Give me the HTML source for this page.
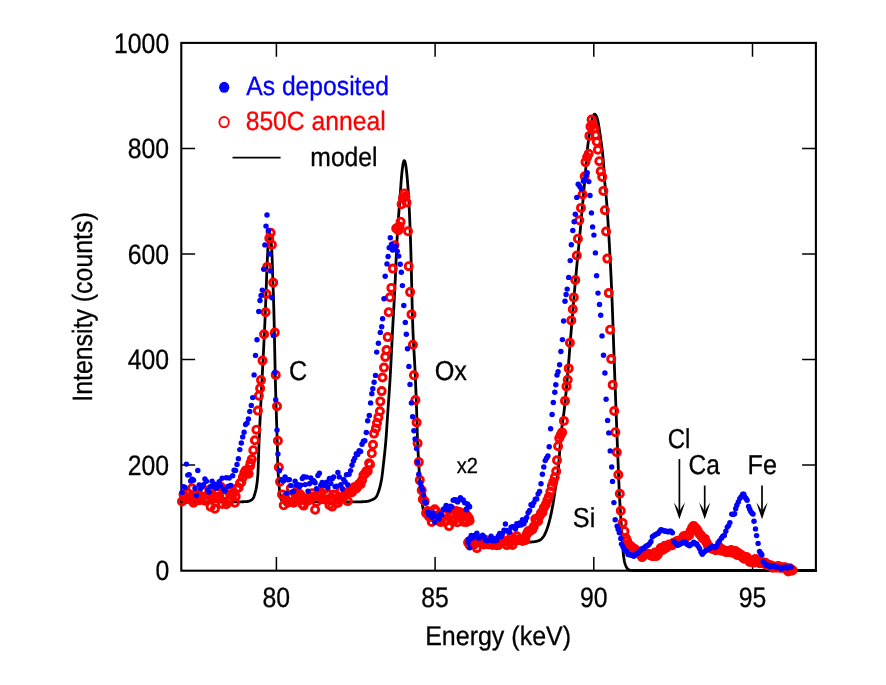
<!DOCTYPE html>
<html><head><meta charset="utf-8"><title>Spectrum</title>
<style>
html,body{margin:0;padding:0;background:#fff;}
svg{display:block;will-change:transform;}
text{font-family:"Liberation Sans",sans-serif;text-rendering:geometricPrecision;}
</style></head><body>
<svg width="886" height="685" viewBox="0 0 886 685">
<rect width="886" height="685" fill="#fff"/>
<defs><circle id="r" r="3.55" fill="none" stroke="#f00" stroke-width="2.9"/><circle id="b" r="2.72" fill="#00f"/><path id="ah" d="M0 0 L-5.6 -16.6 Q-1.6 -11.5 0 -7.5 Q1.6 -11.5 5.6 -16.6 Z" fill="#000"/></defs>
<rect x="181.3" y="42.9" width="634.6" height="527.8" fill="none" stroke="#000" stroke-width="2.1"/>
<path d="M276.4 42.9 V56.7 M276.4 570.7 V556.9 M435.1 42.9 V56.7 M435.1 570.7 V556.9 M593.8 42.9 V56.7 M593.8 570.7 V556.9 M752.5 42.9 V56.7 M752.5 570.7 V556.9 M181.3 465.1 H195.1 M815.9 465.1 H802.1 M181.3 359.6 H195.1 M815.9 359.6 H802.1 M181.3 254.0 H195.1 M815.9 254.0 H802.1 M181.3 148.5 H195.1 M815.9 148.5 H802.1" stroke="#000" stroke-width="1.5" fill="none"/>
<g fill="none" stroke="#000" stroke-width="2.8" stroke-linejoin="round" stroke-linecap="round"><path d="M181.40 501.80 L181.65 501.80 L181.90 501.80 L182.15 501.80 L182.40 501.80 L182.65 501.80 L182.90 501.80 L183.15 501.80 L183.40 501.80 L183.65 501.80 L183.90 501.80 L184.15 501.80 L184.40 501.80 L184.65 501.80 L184.90 501.80 L185.15 501.80 L185.40 501.80 L185.65 501.80 L185.90 501.80 L186.15 501.80 L186.40 501.80 L186.65 501.80 L186.90 501.80 L187.15 501.80 L187.40 501.80 L187.65 501.80 L187.90 501.80 L188.15 501.80 L188.40 501.80 L188.65 501.80 L188.90 501.80 L189.15 501.80 L189.40 501.80 L189.65 501.80 L189.90 501.80 L190.15 501.80 L190.40 501.80 L190.65 501.80 L190.90 501.80 L191.15 501.80 L191.40 501.80 L191.65 501.80 L191.90 501.80 L192.15 501.80 L192.40 501.80 L192.65 501.80 L192.90 501.80 L193.15 501.80 L193.40 501.80 L193.65 501.80 L193.90 501.80 L194.15 501.80 L194.40 501.80 L194.65 501.80 L194.90 501.80 L195.15 501.80 L195.40 501.80 L195.65 501.80 L195.90 501.80 L196.15 501.80 L196.40 501.80 L196.65 501.80 L196.90 501.80 L197.15 501.80 L197.40 501.80 L197.65 501.80 L197.90 501.80 L198.15 501.80 L198.40 501.80 L198.65 501.80 L198.90 501.80 L199.15 501.80 L199.40 501.80 L199.65 501.80 L199.90 501.80 L200.15 501.80 L200.40 501.80 L200.65 501.80 L200.90 501.80 L201.15 501.80 L201.40 501.80 L201.65 501.80 L201.90 501.80 L202.15 501.80 L202.40 501.80 L202.65 501.80 L202.90 501.80 L203.15 501.80 L203.40 501.80 L203.65 501.80 L203.90 501.80 L204.15 501.80 L204.40 501.80 L204.65 501.80 L204.90 501.80 L205.15 501.80 L205.40 501.80 L205.65 501.80 L205.90 501.80 L206.15 501.80 L206.40 501.80 L206.65 501.80 L206.90 501.80 L207.15 501.80 L207.40 501.80 L207.65 501.80 L207.90 501.80 L208.15 501.80 L208.40 501.80 L208.65 501.80 L208.90 501.80 L209.15 501.80 L209.40 501.80 L209.65 501.80 L209.90 501.80 L210.15 501.80 L210.40 501.80 L210.65 501.80 L210.90 501.80 L211.15 501.80 L211.40 501.80 L211.65 501.80 L211.90 501.80 L212.15 501.80 L212.40 501.80 L212.65 501.80 L212.90 501.80 L213.15 501.80 L213.40 501.80 L213.65 501.80 L213.90 501.80 L214.15 501.80 L214.40 501.80 L214.65 501.80 L214.90 501.80 L215.15 501.80 L215.40 501.80 L215.65 501.80 L215.90 501.80 L216.15 501.80 L216.40 501.80 L216.65 501.80 L216.90 501.80 L217.15 501.80 L217.40 501.80 L217.65 501.80 L217.90 501.80 L218.15 501.80 L218.40 501.80 L218.65 501.80 L218.90 501.80 L219.15 501.80 L219.40 501.80 L219.65 501.80 L219.90 501.80 L220.15 501.80 L220.40 501.80 L220.65 501.80 L220.90 501.80 L221.15 501.80 L221.40 501.80 L221.65 501.80 L221.90 501.80 L222.15 501.80 L222.40 501.80 L222.65 501.80 L222.90 501.80 L223.15 501.80 L223.40 501.80 L223.65 501.80 L223.90 501.80 L224.15 501.80 L224.40 501.80 L224.65 501.80 L224.90 501.80 L225.15 501.80 L225.40 501.80 L225.65 501.80 L225.90 501.80 L226.15 501.80 L226.40 501.80 L226.65 501.80 L226.90 501.80 L227.15 501.80 L227.40 501.80 L227.65 501.80 L227.90 501.80 L228.15 501.80 L228.40 501.80 L228.65 501.80 L228.90 501.80 L229.15 501.80 L229.40 501.80 L229.65 501.80 L229.90 501.80 L230.15 501.80 L230.40 501.80 L230.65 501.80 L230.90 501.80 L231.15 501.80 L231.40 501.80 L231.65 501.80 L231.90 501.80 L232.15 501.80 L232.40 501.80 L232.65 501.80 L232.90 501.80 L233.15 501.80 L233.40 501.80 L233.65 501.80 L233.90 501.80 L234.15 501.80 L234.40 501.80 L234.65 501.80 L234.90 501.80 L235.15 501.80 L235.40 501.80 L235.65 501.80 L235.90 501.80 L236.15 501.80 L236.40 501.80 L236.65 501.80 L236.90 501.80 L237.15 501.80 L237.40 501.80 L237.65 501.80 L237.90 501.80 L238.15 501.80 L238.40 501.80 L238.65 501.80 L238.90 501.80 L239.15 501.80 L239.40 501.80 L239.65 501.80 L239.90 501.80 L240.15 501.80 L240.40 501.80 L240.65 501.80 L240.90 501.80 L241.15 501.79 L241.40 501.79 L241.65 501.79 L241.90 501.78 L242.15 501.78 L242.40 501.77 L242.65 501.76 L242.90 501.76 L243.15 501.75 L243.40 501.74 L243.65 501.73 L243.90 501.72 L244.15 501.71 L244.40 501.70 L244.65 501.68 L244.90 501.67 L245.15 501.66 L245.40 501.64 L245.65 501.63 L245.90 501.61 L246.15 501.60 L246.40 501.58 L246.65 501.56 L246.90 501.55 L247.15 501.53 L247.40 501.51 L247.65 501.49 L247.90 501.45 L248.15 501.40 L248.40 501.34 L248.65 501.27 L248.90 501.19 L249.15 501.10 L249.40 501.00 L249.65 500.89 L249.90 500.77 L250.15 500.65 L250.40 500.52 L250.65 500.39 L250.90 500.25 L251.15 500.11 L251.40 499.96 L251.65 499.78 L251.90 499.58 L252.15 499.36 L252.40 499.11 L252.65 498.84 L252.90 498.54 L253.15 498.21 L253.40 497.84 L253.65 497.37 L253.90 496.78 L254.15 496.10 L254.40 495.34 L254.65 494.52 L254.90 493.65 L255.15 492.75 L255.40 491.83 L255.65 490.84 L255.90 489.76 L256.15 488.55 L256.40 487.20 L256.65 485.68 L256.90 484.02 L257.15 482.13 L257.40 479.90 L257.65 477.23 L257.90 474.00 L258.15 468.80 L258.40 461.35 L258.65 453.22 L258.90 446.00 L259.15 439.94 L259.40 434.19 L259.65 428.66 L259.90 423.29 L260.15 418.00 L260.40 412.70 L260.65 407.42 L260.90 402.21 L261.15 397.07 L261.40 392.00 L261.65 386.97 L261.90 382.00 L262.15 377.12 L262.40 372.35 L262.65 367.63 L262.90 362.92 L263.15 358.15 L263.40 353.29 L263.65 348.30 L263.90 343.30 L264.15 338.25 L264.40 333.10 L264.65 327.79 L264.90 322.27 L265.15 316.48 L265.40 310.33 L265.65 303.92 L265.90 297.32 L266.15 290.27 L266.40 283.11 L266.65 276.29 L266.90 269.89 L267.15 263.62 L267.40 257.90 L267.65 253.13 L267.90 248.93 L268.15 245.16 L268.40 241.99 L268.65 239.57 L268.90 237.42 L269.15 235.48 L269.40 234.01 L269.65 233.32 L269.90 233.58 L270.15 234.59 L270.40 236.10 L270.65 237.89 L270.90 239.77 L271.15 242.11 L271.40 245.01 L271.65 248.51 L271.90 252.60 L272.15 258.37 L272.40 266.01 L272.65 274.19 L272.90 281.67 L273.15 288.61 L273.40 295.67 L273.65 303.42 L273.90 312.51 L274.15 322.86 L274.40 334.07 L274.65 346.40 L274.90 359.06 L275.15 371.20 L275.40 382.00 L275.65 391.31 L275.90 399.80 L276.15 407.88 L276.40 415.86 L276.65 423.31 L276.90 430.59 L277.15 438.31 L277.40 447.35 L277.65 458.85 L277.90 467.90 L278.15 472.95 L278.40 476.82 L278.65 480.09 L278.90 483.30 L279.15 486.46 L279.40 489.37 L279.65 491.83 L279.90 493.69 L280.15 495.30 L280.40 496.73 L280.65 497.90 L280.90 498.76 L281.15 499.31 L281.40 499.79 L281.65 500.22 L281.90 500.60 L282.15 500.92 L282.40 501.18 L282.65 501.37 L282.90 501.48 L283.15 501.52 L283.40 501.56 L283.65 501.59 L283.90 501.62 L284.15 501.65 L284.40 501.68 L284.65 501.70 L284.90 501.72 L285.15 501.74 L285.40 501.75 L285.65 501.77 L285.90 501.78 L286.15 501.79 L286.40 501.79 L286.65 501.80 L286.90 501.80 L287.15 501.80 L287.40 501.80 L287.65 501.80 L287.90 501.80 L288.15 501.80 L288.40 501.80 L288.65 501.80 L288.90 501.80 L289.15 501.80 L289.40 501.80 L289.65 501.80 L289.90 501.80 L290.15 501.80 L290.40 501.80 L290.65 501.80 L290.90 501.80 L291.15 501.80 L291.40 501.80 L291.65 501.80 L291.90 501.80 L292.15 501.80 L292.40 501.80 L292.65 501.80 L292.90 501.80 L293.15 501.80 L293.40 501.80 L293.65 501.80 L293.90 501.80 L294.15 501.80 L294.40 501.80 L294.65 501.80 L294.90 501.80 L295.15 501.80 L295.40 501.80 L295.65 501.80 L295.90 501.80 L296.15 501.80 L296.40 501.80 L296.65 501.80 L296.90 501.80 L297.15 501.80 L297.40 501.80 L297.65 501.80 L297.90 501.80 L298.15 501.80 L298.40 501.80 L298.65 501.80 L298.90 501.80 L299.15 501.80 L299.40 501.80 L299.65 501.80 L299.90 501.80 L300.15 501.80 L300.40 501.80 L300.65 501.80 L300.90 501.80 L301.15 501.80 L301.40 501.80 L301.65 501.80 L301.90 501.80 L302.15 501.80 L302.40 501.80 L302.65 501.80 L302.90 501.80 L303.15 501.80 L303.40 501.80 L303.65 501.80 L303.90 501.80 L304.15 501.80 L304.40 501.80 L304.65 501.80 L304.90 501.80 L305.15 501.80 L305.40 501.80 L305.65 501.80 L305.90 501.80 L306.15 501.80 L306.40 501.80 L306.65 501.80 L306.90 501.80 L307.15 501.80 L307.40 501.80 L307.65 501.80 L307.90 501.80 L308.15 501.80 L308.40 501.80 L308.65 501.80 L308.90 501.80 L309.15 501.80 L309.40 501.80 L309.65 501.80 L309.90 501.80 L310.15 501.80 L310.40 501.80 L310.65 501.80 L310.90 501.80 L311.15 501.80 L311.40 501.80 L311.65 501.80 L311.90 501.80 L312.15 501.80 L312.40 501.80 L312.65 501.80 L312.90 501.80 L313.15 501.80 L313.40 501.80 L313.65 501.80 L313.90 501.80 L314.15 501.80 L314.40 501.80 L314.65 501.80 L314.90 501.80 L315.15 501.80 L315.40 501.80 L315.65 501.80 L315.90 501.80 L316.15 501.80 L316.40 501.80 L316.65 501.80 L316.90 501.80 L317.15 501.80 L317.40 501.80 L317.65 501.80 L317.90 501.80 L318.15 501.80 L318.40 501.80 L318.65 501.80 L318.90 501.80 L319.15 501.80 L319.40 501.80 L319.65 501.80 L319.90 501.80 L320.15 501.80 L320.40 501.80 L320.65 501.80 L320.90 501.80 L321.15 501.80 L321.40 501.80 L321.65 501.80 L321.90 501.80 L322.15 501.80 L322.40 501.80 L322.65 501.80 L322.90 501.80 L323.15 501.80 L323.40 501.80 L323.65 501.80 L323.90 501.80 L324.15 501.80 L324.40 501.80 L324.65 501.80 L324.90 501.80 L325.15 501.80 L325.40 501.80 L325.65 501.80 L325.90 501.80 L326.15 501.80 L326.40 501.80 L326.65 501.80 L326.90 501.80 L327.15 501.80 L327.40 501.80 L327.65 501.80 L327.90 501.80 L328.15 501.80 L328.40 501.80 L328.65 501.80 L328.90 501.80 L329.15 501.80 L329.40 501.80 L329.65 501.80 L329.90 501.80 L330.15 501.80 L330.40 501.80 L330.65 501.80 L330.90 501.80 L331.15 501.80 L331.40 501.80 L331.65 501.80 L331.90 501.80 L332.15 501.80 L332.40 501.80 L332.65 501.80 L332.90 501.80 L333.15 501.80 L333.40 501.80 L333.65 501.80 L333.90 501.80 L334.15 501.80 L334.40 501.80 L334.65 501.80 L334.90 501.80 L335.15 501.80 L335.40 501.80 L335.65 501.80 L335.90 501.80 L336.15 501.80 L336.40 501.80 L336.65 501.80 L336.90 501.80 L337.15 501.80 L337.40 501.80 L337.65 501.80 L337.90 501.80 L338.15 501.80 L338.40 501.80 L338.65 501.80 L338.90 501.80 L339.15 501.80 L339.40 501.80 L339.65 501.80 L339.90 501.80 L340.15 501.80 L340.40 501.80 L340.65 501.80 L340.90 501.80 L341.15 501.80 L341.40 501.80 L341.65 501.80 L341.90 501.80 L342.15 501.80 L342.40 501.80 L342.65 501.80 L342.90 501.80 L343.15 501.80 L343.40 501.80 L343.65 501.80 L343.90 501.80 L344.15 501.80 L344.40 501.80 L344.65 501.80 L344.90 501.80 L345.15 501.80 L345.40 501.80 L345.65 501.80 L345.90 501.80 L346.15 501.80 L346.40 501.80 L346.65 501.80 L346.90 501.80 L347.15 501.80 L347.40 501.80 L347.65 501.80 L347.90 501.80 L348.15 501.80 L348.40 501.80 L348.65 501.80 L348.90 501.80 L349.15 501.80 L349.40 501.80 L349.65 501.80 L349.90 501.80 L350.15 501.80 L350.40 501.80 L350.65 501.80 L350.90 501.80 L351.15 501.80 L351.40 501.80 L351.65 501.80 L351.90 501.80 L352.15 501.80 L352.40 501.80 L352.65 501.80 L352.90 501.80 L353.15 501.80 L353.40 501.80 L353.65 501.80 L353.90 501.80 L354.15 501.80 L354.40 501.80 L354.65 501.80 L354.90 501.80 L355.15 501.80 L355.40 501.80 L355.65 501.80 L355.90 501.80 L356.15 501.80 L356.40 501.80 L356.65 501.80 L356.90 501.80 L357.15 501.80 L357.40 501.80 L357.65 501.80 L357.90 501.80 L358.15 501.80 L358.40 501.80 L358.65 501.80 L358.90 501.80 L359.15 501.80 L359.40 501.80 L359.65 501.80 L359.90 501.80 L360.15 501.80 L360.40 501.80 L360.65 501.80 L360.90 501.79 L361.15 501.79 L361.40 501.78 L361.65 501.77 L361.90 501.77 L362.15 501.76 L362.40 501.75 L362.65 501.73 L362.90 501.72 L363.15 501.71 L363.40 501.69 L363.65 501.68 L363.90 501.66 L364.15 501.65 L364.40 501.63 L364.65 501.61 L364.90 501.59 L365.15 501.57 L365.40 501.55 L365.65 501.53 L365.90 501.51 L366.15 501.48 L366.40 501.46 L366.65 501.43 L366.90 501.41 L367.15 501.38 L367.40 501.35 L367.65 501.31 L367.90 501.26 L368.15 501.20 L368.40 501.14 L368.65 501.07 L368.90 500.99 L369.15 500.91 L369.40 500.83 L369.65 500.75 L369.90 500.66 L370.15 500.56 L370.40 500.47 L370.65 500.37 L370.90 500.28 L371.15 500.18 L371.40 500.08 L371.65 499.98 L371.90 499.88 L372.15 499.78 L372.40 499.67 L372.65 499.55 L372.90 499.44 L373.15 499.31 L373.40 499.18 L373.65 499.04 L373.90 498.89 L374.15 498.73 L374.40 498.56 L374.65 498.39 L374.90 498.20 L375.15 497.99 L375.40 497.78 L375.65 497.55 L375.90 497.29 L376.15 496.96 L376.40 496.57 L376.65 496.13 L376.90 495.64 L377.15 495.11 L377.40 494.53 L377.65 493.93 L377.90 493.29 L378.15 492.63 L378.40 491.95 L378.65 491.26 L378.90 490.53 L379.15 489.75 L379.40 488.91 L379.65 488.02 L379.90 487.08 L380.15 486.07 L380.40 485.01 L380.65 483.88 L380.90 482.70 L381.15 481.45 L381.40 480.14 L381.65 478.74 L381.90 477.13 L382.15 475.33 L382.40 473.39 L382.65 471.32 L382.90 469.16 L383.15 466.94 L383.40 464.69 L383.65 462.45 L383.90 460.22 L384.15 457.96 L384.40 455.67 L384.65 453.31 L384.90 450.87 L385.15 448.34 L385.40 445.70 L385.65 442.92 L385.90 440.00 L386.15 436.81 L386.40 433.31 L386.65 429.59 L386.90 425.74 L387.15 421.84 L387.40 417.99 L387.65 414.27 L387.90 410.68 L388.15 407.15 L388.40 403.67 L388.65 400.18 L388.90 396.67 L389.15 393.09 L389.40 389.42 L389.65 385.61 L389.90 381.64 L390.15 377.46 L390.40 373.04 L390.65 368.41 L390.90 363.60 L391.15 358.68 L391.40 353.67 L391.65 348.62 L391.90 343.57 L392.15 338.56 L392.40 333.64 L392.65 328.85 L392.90 324.18 L393.15 319.59 L393.40 315.05 L393.65 310.52 L393.90 305.97 L394.15 301.38 L394.40 296.71 L394.65 291.94 L394.90 287.01 L395.15 281.87 L395.40 276.34 L395.65 270.53 L395.90 264.59 L396.15 258.65 L396.40 252.84 L396.65 247.31 L396.90 242.20 L397.15 237.63 L397.40 233.43 L397.65 229.44 L397.90 225.64 L398.15 222.01 L398.40 218.51 L398.65 215.11 L398.90 211.79 L399.15 208.52 L399.40 205.27 L399.65 202.00 L399.90 198.70 L400.15 195.30 L400.40 191.82 L400.65 188.32 L400.90 184.87 L401.15 181.52 L401.40 178.36 L401.65 175.44 L401.90 172.82 L402.15 170.58 L402.40 168.52 L402.65 166.62 L402.90 164.96 L403.15 163.62 L403.40 162.64 L403.65 161.77 L403.90 161.04 L404.15 160.58 L404.40 160.54 L404.65 160.92 L404.90 161.60 L405.15 162.46 L405.40 163.39 L405.65 164.66 L405.90 166.27 L406.15 168.13 L406.40 170.16 L406.65 172.31 L406.90 174.70 L407.15 177.34 L407.40 180.21 L407.65 183.31 L407.90 186.63 L408.15 190.17 L408.40 193.93 L408.65 197.88 L408.90 202.15 L409.15 206.90 L409.40 212.13 L409.65 217.79 L409.90 223.85 L410.15 230.27 L410.40 237.02 L410.65 244.29 L410.90 252.86 L411.15 262.50 L411.40 272.83 L411.65 283.52 L411.90 294.20 L412.15 304.53 L412.40 314.14 L412.65 322.68 L412.90 329.80 L413.15 335.68 L413.40 340.88 L413.65 345.56 L413.90 349.93 L414.15 354.16 L414.40 358.43 L414.65 362.94 L414.90 367.87 L415.15 373.31 L415.40 378.99 L415.65 384.90 L415.90 391.07 L416.15 397.54 L416.40 404.32 L416.65 411.49 L416.90 420.00 L417.15 429.12 L417.40 437.32 L417.65 443.49 L417.90 448.61 L418.15 453.16 L418.40 457.50 L418.65 461.83 L418.90 466.09 L419.15 470.21 L419.40 474.15 L419.65 477.86 L419.90 481.29 L420.15 484.40 L420.40 487.28 L420.65 490.01 L420.90 492.58 L421.15 495.00 L421.40 497.26 L421.65 499.36 L421.90 501.30 L422.15 503.14 L422.40 504.92 L422.65 506.60 L422.90 508.13 L423.15 509.49 L423.40 510.62 L423.65 511.53 L423.90 512.38 L424.15 513.16 L424.40 513.88 L424.65 514.53 L424.90 515.08 L425.15 515.54 L425.40 515.89 L425.65 516.15 L425.90 516.38 L426.15 516.59 L426.40 516.79 L426.65 516.96 L426.90 517.12 L427.15 517.25 L427.40 517.36 L427.65 517.44 L427.90 517.49 L428.15 517.51 L428.40 517.54 L428.65 517.56 L428.90 517.58 L429.15 517.60 L429.40 517.61 L429.65 517.63 L429.90 517.64 L430.15 517.66 L430.40 517.67 L430.65 517.68 L430.90 517.68 L431.15 517.69 L431.40 517.70 L431.65 517.70 L431.90 517.70 L432.15 517.70 L432.40 517.70 L432.65 517.70 L432.90 517.70 L433.15 517.70 L433.40 517.70 L433.65 517.70 L433.90 517.70 L434.15 517.70 L434.40 517.70 L434.65 517.70 L434.90 517.70 L435.15 517.70 L435.40 517.70 L435.65 517.70 L435.90 517.70 L436.15 517.70 L436.40 517.70 L436.65 517.70 L436.90 517.70 L437.15 517.70 L437.40 517.70 L437.65 517.70 L437.90 517.70 L438.15 517.70 L438.40 517.70 L438.65 517.70 L438.90 517.70 L439.15 517.70 L439.40 517.70 L439.65 517.70 L439.90 517.70 L440.15 517.70 L440.40 517.70 L440.65 517.70 L440.90 517.70 L441.15 517.70 L441.40 517.70 L441.65 517.70 L441.90 517.70 L442.15 517.70 L442.40 517.70 L442.65 517.70 L442.90 517.70 L443.15 517.70 L443.40 517.70 L443.65 517.70 L443.90 517.70 L444.15 517.70 L444.40 517.70 L444.65 517.70 L444.90 517.70 L445.15 517.70 L445.40 517.70 L445.65 517.70 L445.90 517.70 L446.15 517.70 L446.40 517.70 L446.65 517.70 L446.90 517.70 L447.15 517.70 L447.40 517.70 L447.65 517.70 L447.90 517.70 L448.15 517.70 L448.40 517.70 L448.65 517.70 L448.90 517.70 L449.15 517.70 L449.40 517.70 L449.65 517.70 L449.90 517.70 L450.15 517.70 L450.40 517.70 L450.65 517.70 L450.90 517.70 L451.15 517.70 L451.40 517.70 L451.65 517.70 L451.90 517.70 L452.15 517.70 L452.40 517.70 L452.65 517.70 L452.90 517.70 L453.15 517.70 L453.40 517.70 L453.65 517.70 L453.90 517.70 L454.15 517.70 L454.40 517.70 L454.65 517.70 L454.90 517.70 L455.15 517.70 L455.40 517.70 L455.65 517.70 L455.90 517.70 L456.15 517.70 L456.40 517.70 L456.65 517.70 L456.90 517.70 L457.15 517.70 L457.40 517.70 L457.65 517.70 L457.90 517.70 L458.15 517.70 L458.40 517.70 L458.65 517.70 L458.90 517.70 L459.15 517.70 L459.40 517.70 L459.65 517.70 L459.90 517.70 L460.15 517.70 L460.40 517.70 L460.65 517.70 L460.90 517.70 L461.15 517.70 L461.40 517.70 L461.65 517.70 L461.90 517.70 L462.15 517.70 L462.40 517.70 L462.65 517.70 L462.90 517.70 L463.15 517.70 L463.40 517.70 L463.65 517.70 L463.90 517.70 L464.15 517.70 L464.40 517.70 L464.65 517.70 L464.90 517.70 L465.15 517.70 L465.40 517.70 L465.65 517.70 L465.90 517.70 L466.15 517.70 L466.40 517.70 L466.65 517.70 L466.90 517.70 L467.15 517.70 L467.40 517.70 L467.65 517.70 L467.90 517.70 L468.15 517.70"/><path d="M468.30 542.40 L468.55 542.40 L468.80 542.40 L469.05 542.40 L469.30 542.40 L469.55 542.40 L469.80 542.40 L470.05 542.40 L470.30 542.40 L470.55 542.40 L470.80 542.40 L471.05 542.40 L471.30 542.40 L471.55 542.40 L471.80 542.40 L472.05 542.40 L472.30 542.40 L472.55 542.40 L472.80 542.40 L473.05 542.40 L473.30 542.40 L473.55 542.40 L473.80 542.40 L474.05 542.40 L474.30 542.40 L474.55 542.40 L474.80 542.40 L475.05 542.40 L475.30 542.40 L475.55 542.40 L475.80 542.40 L476.05 542.40 L476.30 542.40 L476.55 542.40 L476.80 542.40 L477.05 542.40 L477.30 542.40 L477.55 542.40 L477.80 542.40 L478.05 542.40 L478.30 542.40 L478.55 542.40 L478.80 542.40 L479.05 542.40 L479.30 542.40 L479.55 542.40 L479.80 542.40 L480.05 542.40 L480.30 542.40 L480.55 542.40 L480.80 542.40 L481.05 542.40 L481.30 542.40 L481.55 542.40 L481.80 542.40 L482.05 542.40 L482.30 542.40 L482.55 542.40 L482.80 542.40 L483.05 542.40 L483.30 542.40 L483.55 542.40 L483.80 542.40 L484.05 542.40 L484.30 542.40 L484.55 542.40 L484.80 542.40 L485.05 542.40 L485.30 542.40 L485.55 542.40 L485.80 542.40 L486.05 542.40 L486.30 542.40 L486.55 542.40 L486.80 542.40 L487.05 542.40 L487.30 542.40 L487.55 542.40 L487.80 542.40 L488.05 542.40 L488.30 542.40 L488.55 542.40 L488.80 542.40 L489.05 542.40 L489.30 542.40 L489.55 542.40 L489.80 542.40 L490.05 542.40 L490.30 542.40 L490.55 542.40 L490.80 542.40 L491.05 542.40 L491.30 542.40 L491.55 542.40 L491.80 542.40 L492.05 542.40 L492.30 542.40 L492.55 542.40 L492.80 542.40 L493.05 542.40 L493.30 542.40 L493.55 542.40 L493.80 542.40 L494.05 542.40 L494.30 542.40 L494.55 542.40 L494.80 542.40 L495.05 542.40 L495.30 542.40 L495.55 542.40 L495.80 542.40 L496.05 542.40 L496.30 542.40 L496.55 542.40 L496.80 542.40 L497.05 542.40 L497.30 542.40 L497.55 542.40 L497.80 542.40 L498.05 542.40 L498.30 542.40 L498.55 542.40 L498.80 542.40 L499.05 542.40 L499.30 542.40 L499.55 542.40 L499.80 542.40 L500.05 542.40 L500.30 542.40 L500.55 542.40 L500.80 542.40 L501.05 542.40 L501.30 542.40 L501.55 542.40 L501.80 542.40 L502.05 542.40 L502.30 542.40 L502.55 542.40 L502.80 542.40 L503.05 542.40 L503.30 542.40 L503.55 542.40 L503.80 542.40 L504.05 542.40 L504.30 542.40 L504.55 542.40 L504.80 542.40 L505.05 542.40 L505.30 542.40 L505.55 542.40 L505.80 542.40 L506.05 542.40 L506.30 542.40 L506.55 542.40 L506.80 542.40 L507.05 542.40 L507.30 542.40 L507.55 542.40 L507.80 542.40 L508.05 542.40 L508.30 542.40 L508.55 542.40 L508.80 542.40 L509.05 542.40 L509.30 542.40 L509.55 542.40 L509.80 542.40 L510.05 542.40 L510.30 542.40 L510.55 542.40 L510.80 542.40 L511.05 542.40 L511.30 542.40 L511.55 542.40 L511.80 542.40 L512.05 542.40 L512.30 542.40 L512.55 542.40 L512.80 542.40 L513.05 542.40 L513.30 542.40 L513.55 542.40 L513.80 542.40 L514.05 542.40 L514.30 542.40 L514.55 542.40 L514.80 542.40 L515.05 542.40 L515.30 542.40 L515.55 542.40 L515.80 542.40 L516.05 542.40 L516.30 542.40 L516.55 542.40 L516.80 542.40 L517.05 542.40 L517.30 542.40 L517.55 542.40 L517.80 542.40 L518.05 542.40 L518.30 542.40 L518.55 542.40 L518.80 542.40 L519.05 542.40 L519.30 542.40 L519.55 542.40 L519.80 542.40 L520.05 542.40 L520.30 542.40 L520.55 542.40 L520.80 542.40 L521.05 542.40 L521.30 542.40 L521.55 542.40 L521.80 542.40 L522.05 542.40 L522.30 542.40 L522.55 542.40 L522.80 542.40 L523.05 542.39 L523.30 542.39 L523.55 542.38 L523.80 542.38 L524.05 542.37 L524.30 542.37 L524.55 542.36 L524.80 542.35 L525.05 542.34 L525.30 542.33 L525.55 542.32 L525.80 542.31 L526.05 542.30 L526.30 542.29 L526.55 542.28 L526.80 542.27 L527.05 542.26 L527.30 542.25 L527.55 542.24 L527.80 542.23 L528.05 542.22 L528.30 542.20 L528.55 542.19 L528.80 542.18 L529.05 542.17 L529.30 542.15 L529.55 542.14 L529.80 542.12 L530.05 542.11 L530.30 542.09 L530.55 542.07 L530.80 542.05 L531.05 542.04 L531.30 542.02 L531.55 541.99 L531.80 541.97 L532.05 541.95 L532.30 541.92 L532.55 541.90 L532.80 541.87 L533.05 541.85 L533.30 541.82 L533.55 541.79 L533.80 541.76 L534.05 541.73 L534.30 541.70 L534.55 541.66 L534.80 541.63 L535.05 541.59 L535.30 541.55 L535.55 541.51 L535.80 541.46 L536.05 541.41 L536.30 541.36 L536.55 541.30 L536.80 541.24 L537.05 541.17 L537.30 541.10 L537.55 541.03 L537.80 540.95 L538.05 540.86 L538.30 540.77 L538.55 540.68 L538.80 540.58 L539.05 540.48 L539.30 540.37 L539.55 540.26 L539.80 540.15 L540.05 540.02 L540.30 539.89 L540.55 539.73 L540.80 539.55 L541.05 539.35 L541.30 539.13 L541.55 538.88 L541.80 538.62 L542.05 538.34 L542.30 538.05 L542.55 537.75 L542.80 537.43 L543.05 537.11 L543.30 536.77 L543.55 536.43 L543.80 536.06 L544.05 535.65 L544.30 535.21 L544.55 534.75 L544.80 534.25 L545.05 533.73 L545.30 533.19 L545.55 532.63 L545.80 532.06 L546.05 531.48 L546.30 530.87 L546.55 530.23 L546.80 529.56 L547.05 528.86 L547.30 528.13 L547.55 527.38 L547.80 526.61 L548.05 525.81 L548.30 525.00 L548.55 524.16 L548.80 523.29 L549.05 522.39 L549.30 521.46 L549.55 520.50 L549.80 519.51 L550.05 518.48 L550.30 517.43 L550.55 516.35 L550.80 515.23 L551.05 514.08 L551.30 512.90 L551.55 511.69 L551.80 510.44 L552.05 509.16 L552.30 507.85 L552.55 506.51 L552.80 505.14 L553.05 503.73 L553.30 502.30 L553.55 500.80 L553.80 499.20 L554.05 497.53 L554.30 495.82 L554.55 494.07 L554.80 492.33 L555.05 490.60 L555.30 488.91 L555.55 487.28 L555.80 485.75 L556.05 484.30 L556.30 482.88 L556.55 481.48 L556.80 480.03 L557.05 478.52 L557.30 476.90 L557.55 475.14 L557.80 473.19 L558.05 470.95 L558.30 468.44 L558.55 465.70 L558.80 462.77 L559.05 459.70 L559.30 456.52 L559.55 453.28 L559.80 450.02 L560.05 446.77 L560.30 443.60 L560.55 440.52 L560.80 437.59 L561.05 434.85 L561.30 432.33 L561.55 430.07 L561.80 427.97 L562.05 425.99 L562.30 424.12 L562.55 422.32 L562.80 420.56 L563.05 418.82 L563.30 417.06 L563.55 415.25 L563.80 413.38 L564.05 411.40 L564.30 409.30 L564.55 407.08 L564.80 404.78 L565.05 402.40 L565.30 399.96 L565.55 397.46 L565.80 394.90 L566.05 392.29 L566.30 389.63 L566.55 386.94 L566.80 384.21 L567.05 381.46 L567.30 378.68 L567.55 375.83 L567.80 372.91 L568.05 369.92 L568.30 366.87 L568.55 363.78 L568.80 360.65 L569.05 357.49 L569.30 354.31 L569.55 351.13 L569.80 347.95 L570.05 344.77 L570.30 341.62 L570.55 338.51 L570.80 335.43 L571.05 332.40 L571.30 329.38 L571.55 326.37 L571.80 323.35 L572.05 320.33 L572.30 317.32 L572.55 314.32 L572.80 311.32 L573.05 308.33 L573.30 305.36 L573.55 302.39 L573.80 299.45 L574.05 296.52 L574.30 293.61 L574.55 290.73 L574.80 287.87 L575.05 285.03 L575.30 282.22 L575.55 279.45 L575.80 276.71 L576.05 274.01 L576.30 271.34 L576.55 268.70 L576.80 266.09 L577.05 263.49 L577.30 260.92 L577.55 258.35 L577.80 255.80 L578.05 253.25 L578.30 250.69 L578.55 248.14 L578.80 245.57 L579.05 242.99 L579.30 240.40 L579.55 237.78 L579.80 235.14 L580.05 232.46 L580.30 229.77 L580.55 227.07 L580.80 224.35 L581.05 221.62 L581.30 218.89 L581.55 216.14 L581.80 213.39 L582.05 210.63 L582.30 207.86 L582.55 205.09 L582.80 202.31 L583.05 199.53 L583.30 196.74 L583.55 193.95 L583.80 191.16 L584.05 188.37 L584.30 185.58 L584.55 182.79 L584.80 180.00 L585.05 177.15 L585.30 174.21 L585.55 171.21 L585.80 168.16 L586.05 165.10 L586.30 162.05 L586.55 159.06 L586.80 156.13 L587.05 153.31 L587.30 150.61 L587.55 148.08 L587.80 145.73 L588.05 143.59 L588.30 141.57 L588.55 139.64 L588.80 137.77 L589.05 135.98 L589.30 134.27 L589.55 132.62 L589.80 131.04 L590.05 129.54 L590.30 128.09 L590.55 126.72 L590.80 125.41 L591.05 124.15 L591.30 122.90 L591.55 121.68 L591.80 120.52 L592.05 119.44 L592.30 118.48 L592.55 117.66 L592.80 117.00 L593.05 116.43 L593.30 115.88 L593.55 115.37 L593.80 114.92 L594.05 114.56 L594.30 114.31 L594.55 114.20 L594.80 114.24 L595.05 114.38 L595.30 114.61 L595.55 114.90 L595.80 115.23 L596.05 115.57 L596.30 116.01 L596.55 116.57 L596.80 117.23 L597.05 117.99 L597.30 118.81 L597.55 119.68 L597.80 120.67 L598.05 121.81 L598.30 123.08 L598.55 124.47 L598.80 125.95 L599.05 127.51 L599.30 129.14 L599.55 130.82 L599.80 132.54 L600.05 134.27 L600.30 136.01 L600.55 137.74 L600.80 139.47 L601.05 141.22 L601.30 143.00 L601.55 144.84 L601.80 146.74 L602.05 148.73 L602.30 150.81 L602.55 153.02 L602.80 155.35 L603.05 157.84 L603.30 160.49 L603.55 163.47 L603.80 167.24 L604.05 171.44 L604.30 175.62 L604.55 179.35 L604.80 182.40 L605.05 185.10 L605.30 187.59 L605.55 189.99 L605.80 192.44 L606.05 195.07 L606.30 198.00 L606.55 201.18 L606.80 204.48 L607.05 207.88 L607.30 211.39 L607.55 215.00 L607.80 218.73 L608.05 222.56 L608.30 226.50 L608.55 230.55 L608.80 234.70 L609.05 238.97 L609.30 243.33 L609.55 247.81 L609.80 252.39 L610.05 257.08 L610.30 261.87 L610.55 266.77 L610.80 271.77 L611.05 276.88 L611.30 282.12 L611.55 287.72 L611.80 293.69 L612.05 299.98 L612.30 306.55 L612.55 313.35 L612.80 320.33 L613.05 327.46 L613.30 334.68 L613.55 341.94 L613.80 349.21 L614.05 356.43 L614.30 363.55 L614.55 370.54 L614.80 377.34 L615.05 383.96 L615.30 390.56 L615.55 397.15 L615.80 403.74 L616.05 410.31 L616.30 416.86 L616.55 423.38 L616.80 429.88 L617.05 436.35 L617.30 442.78 L617.55 449.16 L617.80 455.50 L618.05 461.78 L618.30 468.01 L618.55 474.17 L618.80 480.37 L619.05 486.50 L619.30 492.00 L619.55 496.85 L619.80 501.42 L620.05 505.74 L620.30 509.87 L620.55 513.82 L620.80 517.65 L621.05 521.39 L621.30 525.07 L621.55 528.74 L621.80 532.52 L622.05 536.39 L622.30 540.26 L622.55 544.02 L622.80 547.58 L623.05 550.84 L623.30 553.70 L623.55 556.06 L623.80 557.86 L624.05 559.38 L624.30 560.69 L624.55 561.82 L624.80 562.81 L625.05 563.66 L625.30 564.44 L625.55 565.15 L625.80 565.80 L626.05 566.38 L626.30 566.90 L626.55 567.36 L626.80 567.75 L627.05 568.11 L627.30 568.45 L627.55 568.76 L627.80 569.04 L628.05 569.28 L628.30 569.47 L628.55 569.63 L628.80 569.76 L629.05 569.88 L629.30 570.00 L629.55 570.09 L629.80 570.18 L630.05 570.24 L630.30 570.29 L630.55 570.32 L630.80 570.34 L631.05 570.36 L631.30 570.38 L631.55 570.40 L631.80 570.42 L632.05 570.44 L632.30 570.45 L632.55 570.47 L632.80 570.48 L633.05 570.48 L633.30 570.49 L633.55 570.50 L633.80 570.50 L634.05 570.50 L634.30 570.50 L634.55 570.50 L634.80 570.50 L635.05 570.50 L635.30 570.50 L635.55 570.50 L635.80 570.50 L636.05 570.50 L636.30 570.50 L636.55 570.50 L636.80 570.50 L637.05 570.50 L637.30 570.50 L637.55 570.50 L637.80 570.50 L638.05 570.50 L638.30 570.50 L638.55 570.50 L638.80 570.50 L639.05 570.50 L639.30 570.50 L639.55 570.50 L639.80 570.50 L640.05 570.50 L640.30 570.50 L640.55 570.50 L640.80 570.50 L641.05 570.50 L641.30 570.50 L641.55 570.50 L641.80 570.50 L642.05 570.50 L642.30 570.50 L642.55 570.50 L642.80 570.50 L643.05 570.50 L643.30 570.50 L643.55 570.50 L643.80 570.50 L644.05 570.50 L644.30 570.50 L644.55 570.50 L644.80 570.50 L645.05 570.50 L645.30 570.50 L645.55 570.50 L645.80 570.50 L646.05 570.50 L646.30 570.50 L646.55 570.50 L646.80 570.50 L647.05 570.50 L647.30 570.50 L647.55 570.50 L647.80 570.50 L648.05 570.50 L648.30 570.50 L648.55 570.50 L648.80 570.50 L649.05 570.50 L649.30 570.50 L649.55 570.50 L649.80 570.50 L650.05 570.50 L650.30 570.50 L650.55 570.50 L650.80 570.50 L651.05 570.50 L651.30 570.50 L651.55 570.50 L651.80 570.50 L652.05 570.50 L652.30 570.50 L652.55 570.50 L652.80 570.50 L653.05 570.50 L653.30 570.50 L653.55 570.50 L653.80 570.50 L654.05 570.50 L654.30 570.50 L654.55 570.50 L654.80 570.50 L655.05 570.50 L655.30 570.50 L655.55 570.50 L655.80 570.50 L656.05 570.50 L656.30 570.50 L656.55 570.50 L656.80 570.50 L657.05 570.50 L657.30 570.50 L657.55 570.50 L657.80 570.50 L658.05 570.50 L658.30 570.50 L658.55 570.50 L658.80 570.50 L659.05 570.50 L659.30 570.50 L659.55 570.50 L659.80 570.50 L660.05 570.50 L660.30 570.50 L660.55 570.50 L660.80 570.50 L661.05 570.50 L661.30 570.50 L661.55 570.50 L661.80 570.50 L662.05 570.50 L662.30 570.50 L662.55 570.50 L662.80 570.50 L663.05 570.50 L663.30 570.50 L663.55 570.50 L663.80 570.50 L664.05 570.50 L664.30 570.50 L664.55 570.50 L664.80 570.50 L665.05 570.50 L665.30 570.50 L665.55 570.50 L665.80 570.50 L666.05 570.50 L666.30 570.50 L666.55 570.50 L666.80 570.50 L667.05 570.50 L667.30 570.50 L667.55 570.50 L667.80 570.50 L668.05 570.50 L668.30 570.50 L668.55 570.50 L668.80 570.50 L669.05 570.50 L669.30 570.50 L669.55 570.50 L669.80 570.50 L670.05 570.50 L670.30 570.50 L670.55 570.50 L670.80 570.50 L671.05 570.50 L671.30 570.50 L671.55 570.50 L671.80 570.50 L672.05 570.50 L672.30 570.50 L672.55 570.50 L672.80 570.50 L673.05 570.50 L673.30 570.50 L673.55 570.50 L673.80 570.50 L674.05 570.50 L674.30 570.50 L674.55 570.50 L674.80 570.50 L675.05 570.50 L675.30 570.50 L675.55 570.50 L675.80 570.50 L676.05 570.50 L676.30 570.50 L676.55 570.50 L676.80 570.50 L677.05 570.50 L677.30 570.50 L677.55 570.50 L677.80 570.50 L678.05 570.50 L678.30 570.50 L678.55 570.50 L678.80 570.50 L679.05 570.50 L679.30 570.50 L679.55 570.50 L679.80 570.50 L680.05 570.50 L680.30 570.50 L680.55 570.50 L680.80 570.50 L681.05 570.50 L681.30 570.50 L681.55 570.50 L681.80 570.50 L682.05 570.50 L682.30 570.50 L682.55 570.50 L682.80 570.50 L683.05 570.50 L683.30 570.50 L683.55 570.50 L683.80 570.50 L684.05 570.50 L684.30 570.50 L684.55 570.50 L684.80 570.50 L685.05 570.50 L685.30 570.50 L685.55 570.50 L685.80 570.50 L686.05 570.50 L686.30 570.50 L686.55 570.50 L686.80 570.50 L687.05 570.50 L687.30 570.50 L687.55 570.50 L687.80 570.50 L688.05 570.50 L688.30 570.50 L688.55 570.50 L688.80 570.50 L689.05 570.50 L689.30 570.50 L689.55 570.50 L689.80 570.50 L690.05 570.50 L690.30 570.50 L690.55 570.50 L690.80 570.50 L691.05 570.50 L691.30 570.50 L691.55 570.50 L691.80 570.50 L692.05 570.50 L692.30 570.50 L692.55 570.50 L692.80 570.50 L693.05 570.50 L693.30 570.50 L693.55 570.50 L693.80 570.50 L694.05 570.50 L694.30 570.50 L694.55 570.50 L694.80 570.50 L695.05 570.50 L695.30 570.50 L695.55 570.50 L695.80 570.50 L696.05 570.50 L696.30 570.50 L696.55 570.50 L696.80 570.50 L697.05 570.50 L697.30 570.50 L697.55 570.50 L697.80 570.50 L698.05 570.50 L698.30 570.50 L698.55 570.50 L698.80 570.50 L699.05 570.50 L699.30 570.50 L699.55 570.50 L699.80 570.50 L700.05 570.50 L700.30 570.50 L700.55 570.50 L700.80 570.50 L701.05 570.50 L701.30 570.50 L701.55 570.50 L701.80 570.50 L702.05 570.50 L702.30 570.50 L702.55 570.50 L702.80 570.50 L703.05 570.50 L703.30 570.50 L703.55 570.50 L703.80 570.50 L704.05 570.50 L704.30 570.50 L704.55 570.50 L704.80 570.50 L705.05 570.50 L705.30 570.50 L705.55 570.50 L705.80 570.50 L706.05 570.50 L706.30 570.50 L706.55 570.50 L706.80 570.50 L707.05 570.50 L707.30 570.50 L707.55 570.50 L707.80 570.50 L708.05 570.50 L708.30 570.50 L708.55 570.50 L708.80 570.50 L709.05 570.50 L709.30 570.50 L709.55 570.50 L709.80 570.50 L710.05 570.50 L710.30 570.50 L710.55 570.50 L710.80 570.50 L711.05 570.50 L711.30 570.50 L711.55 570.50 L711.80 570.50 L712.05 570.50 L712.30 570.50 L712.55 570.50 L712.80 570.50 L713.05 570.50 L713.30 570.50 L713.55 570.50 L713.80 570.50 L714.05 570.50 L714.30 570.50 L714.55 570.50 L714.80 570.50 L715.05 570.50 L715.30 570.50 L715.55 570.50 L715.80 570.50 L716.05 570.50 L716.30 570.50 L716.55 570.50 L716.80 570.50 L717.05 570.50 L717.30 570.50 L717.55 570.50 L717.80 570.50 L718.05 570.50 L718.30 570.50 L718.55 570.50 L718.80 570.50 L719.05 570.50 L719.30 570.50 L719.55 570.50 L719.80 570.50 L720.05 570.50 L720.30 570.50 L720.55 570.50 L720.80 570.50 L721.05 570.50 L721.30 570.50 L721.55 570.50 L721.80 570.50 L722.05 570.50 L722.30 570.50 L722.55 570.50 L722.80 570.50 L723.05 570.50 L723.30 570.50 L723.55 570.50 L723.80 570.50 L724.05 570.50 L724.30 570.50 L724.55 570.50 L724.80 570.50 L725.05 570.50 L725.30 570.50 L725.55 570.50 L725.80 570.50 L726.05 570.50 L726.30 570.50 L726.55 570.50 L726.80 570.50 L727.05 570.50 L727.30 570.50 L727.55 570.50 L727.80 570.50 L728.05 570.50 L728.30 570.50 L728.55 570.50 L728.80 570.50 L729.05 570.50 L729.30 570.50 L729.55 570.50 L729.80 570.50 L730.05 570.50 L730.30 570.50 L730.55 570.50 L730.80 570.50 L731.05 570.50 L731.30 570.50 L731.55 570.50 L731.80 570.50 L732.05 570.50 L732.30 570.50 L732.55 570.50 L732.80 570.50 L733.05 570.50 L733.30 570.50 L733.55 570.50 L733.80 570.50 L734.05 570.50 L734.30 570.50 L734.55 570.50 L734.80 570.50 L735.05 570.50 L735.30 570.50 L735.55 570.50 L735.80 570.50 L736.05 570.50 L736.30 570.50 L736.55 570.50 L736.80 570.50 L737.05 570.50 L737.30 570.50 L737.55 570.50 L737.80 570.50 L738.05 570.50 L738.30 570.50 L738.55 570.50 L738.80 570.50 L739.05 570.50 L739.30 570.50 L739.55 570.50 L739.80 570.50 L740.05 570.50 L740.30 570.50 L740.55 570.50 L740.80 570.50 L741.05 570.50 L741.30 570.50 L741.55 570.50 L741.80 570.50 L742.05 570.50 L742.30 570.50 L742.55 570.50 L742.80 570.50 L743.05 570.50 L743.30 570.50 L743.55 570.50 L743.80 570.50 L744.05 570.50 L744.30 570.50 L744.55 570.50 L744.80 570.50 L745.05 570.50 L745.30 570.50 L745.55 570.50 L745.80 570.50 L746.05 570.50 L746.30 570.50 L746.55 570.50 L746.80 570.50 L747.05 570.50 L747.30 570.50 L747.55 570.50 L747.80 570.50 L748.05 570.50 L748.30 570.50 L748.55 570.50 L748.80 570.50 L749.05 570.50 L749.30 570.50 L749.55 570.50 L749.80 570.50 L750.05 570.50 L750.30 570.50 L750.55 570.50 L750.80 570.50 L751.05 570.50 L751.30 570.50 L751.55 570.50 L751.80 570.50 L752.05 570.50 L752.30 570.50 L752.55 570.50 L752.80 570.50 L753.05 570.50 L753.30 570.50 L753.55 570.50 L753.80 570.50 L754.05 570.50 L754.30 570.50 L754.55 570.50 L754.80 570.50 L755.05 570.50 L755.30 570.50 L755.55 570.50 L755.80 570.50 L756.05 570.50 L756.30 570.50 L756.55 570.50 L756.80 570.50 L757.05 570.50 L757.30 570.50 L757.55 570.50 L757.80 570.50 L758.05 570.50 L758.30 570.50 L758.55 570.50 L758.80 570.50 L759.05 570.50 L759.30 570.50 L759.55 570.50 L759.80 570.50 L760.05 570.50 L760.30 570.50 L760.55 570.50 L760.80 570.50 L761.05 570.50 L761.30 570.50 L761.55 570.50 L761.80 570.50 L762.05 570.50 L762.30 570.50 L762.55 570.50 L762.80 570.50 L763.05 570.50 L763.30 570.50 L763.55 570.50 L763.80 570.50 L764.05 570.50 L764.30 570.50 L764.55 570.50 L764.80 570.50 L765.05 570.50 L765.30 570.50 L765.55 570.50 L765.80 570.50 L766.05 570.50 L766.30 570.50 L766.55 570.50 L766.80 570.50 L767.05 570.50 L767.30 570.50 L767.55 570.50 L767.80 570.50 L768.05 570.50 L768.30 570.50 L768.55 570.50 L768.80 570.50 L769.05 570.50 L769.30 570.50 L769.55 570.50 L769.80 570.50 L770.05 570.50 L770.30 570.50 L770.55 570.50 L770.80 570.50 L771.05 570.50 L771.30 570.50 L771.55 570.50 L771.80 570.50 L772.05 570.50 L772.30 570.50 L772.55 570.50 L772.80 570.50 L773.05 570.50 L773.30 570.50 L773.55 570.50 L773.80 570.50 L774.05 570.50 L774.30 570.50 L774.55 570.50 L774.80 570.50 L775.05 570.50 L775.30 570.50 L775.55 570.50 L775.80 570.50 L776.05 570.50 L776.30 570.50 L776.55 570.50 L776.80 570.50 L777.05 570.50 L777.30 570.50 L777.55 570.50 L777.80 570.50 L778.05 570.50 L778.30 570.50 L778.55 570.50 L778.80 570.50 L779.05 570.50 L779.30 570.50 L779.55 570.50 L779.80 570.50 L780.05 570.50 L780.30 570.50 L780.55 570.50 L780.80 570.50 L781.05 570.50 L781.30 570.50 L781.55 570.50 L781.80 570.50 L782.05 570.50 L782.30 570.50 L782.55 570.50 L782.80 570.50 L783.05 570.50 L783.30 570.50 L783.55 570.50 L783.80 570.50 L784.05 570.50 L784.30 570.50 L784.55 570.50 L784.80 570.50 L785.05 570.50 L785.30 570.50 L785.55 570.50 L785.80 570.50 L786.05 570.50 L786.30 570.50 L786.55 570.50 L786.80 570.50 L787.05 570.50 L787.30 570.50 L787.55 570.50 L787.80 570.50 L788.05 570.50 L788.30 570.50 L788.55 570.50 L788.80 570.50 L789.05 570.50 L789.30 570.50 L789.55 570.50 L789.80 570.50 L790.05 570.50 L790.30 570.50 L790.55 570.50 L790.80 570.50 L791.05 570.50 L791.30 570.50 L791.55 570.50 L791.80 570.50 L792.05 570.50 L792.30 570.50 L792.55 570.50 L792.80 570.50 L793.05 570.50 L793.30 570.50 L793.55 570.50 L793.80 570.50 L794.05 570.50 L794.30 570.50 L794.55 570.50 L794.80 570.50 L795.05 570.50 L795.30 570.50 L795.55 570.50 L795.80 570.50 L796.05 570.50 L796.30 570.50 L796.55 570.50 L796.80 570.50 L797.05 570.50 L797.30 570.50 L797.55 570.50 L797.80 570.50 L798.05 570.50 L798.30 570.50 L798.55 570.50 L798.80 570.50 L799.05 570.50 L799.30 570.50 L799.55 570.50 L799.80 570.50 L800.05 570.50 L800.30 570.50 L800.55 570.50 L800.80 570.50 L801.05 570.50 L801.30 570.50 L801.55 570.50 L801.80 570.50 L802.05 570.50 L802.30 570.50 L802.55 570.50 L802.80 570.50 L803.05 570.50 L803.30 570.50 L803.55 570.50 L803.80 570.50 L804.05 570.50 L804.30 570.50 L804.55 570.50 L804.80 570.50 L805.05 570.50 L805.30 570.50 L805.55 570.50 L805.80 570.50 L806.05 570.50 L806.30 570.50 L806.55 570.50 L806.80 570.50 L807.05 570.50 L807.30 570.50 L807.55 570.50 L807.80 570.50 L808.05 570.50 L808.30 570.50 L808.55 570.50 L808.80 570.50 L809.05 570.50 L809.30 570.50 L809.55 570.50 L809.80 570.50 L810.05 570.50 L810.30 570.50 L810.55 570.50 L810.80 570.50 L811.05 570.50 L811.30 570.50 L811.55 570.50 L811.80 570.50 L812.05 570.50 L812.30 570.50 L812.55 570.50 L812.80 570.50 L813.05 570.50 L813.30 570.50 L813.55 570.50 L813.80 570.50 L814.05 570.50 L814.30 570.50 L814.55 570.50 L814.80 570.50 L815.05 570.50 L815.30 570.50 L815.55 570.50 L815.80 570.50"/></g>
<g><use href="#r" x="182.0" y="501.5"/><use href="#r" x="183.5" y="494.6"/><use href="#r" x="185.0" y="497.2"/><use href="#r" x="186.4" y="499.3"/><use href="#r" x="187.8" y="493.1"/><use href="#r" x="189.2" y="497.3"/><use href="#r" x="190.7" y="497.3"/><use href="#r" x="192.1" y="488.2"/><use href="#r" x="193.5" y="502.7"/><use href="#r" x="195.0" y="500.6"/><use href="#r" x="196.4" y="494.3"/><use href="#r" x="197.8" y="496.7"/><use href="#r" x="199.2" y="500.3"/><use href="#r" x="200.7" y="496.3"/><use href="#r" x="202.1" y="496.5"/><use href="#r" x="203.5" y="490.3"/><use href="#r" x="204.9" y="500.8"/><use href="#r" x="206.4" y="498.6"/><use href="#r" x="207.8" y="499.4"/><use href="#r" x="209.2" y="490.1"/><use href="#r" x="210.6" y="506.7"/><use href="#r" x="212.1" y="499.0"/><use href="#r" x="213.5" y="496.2"/><use href="#r" x="214.9" y="508.8"/><use href="#r" x="216.3" y="498.1"/><use href="#r" x="217.8" y="490.8"/><use href="#r" x="219.2" y="496.3"/><use href="#r" x="220.6" y="486.6"/><use href="#r" x="222.1" y="504.0"/><use href="#r" x="223.5" y="496.4"/><use href="#r" x="224.9" y="494.8"/><use href="#r" x="226.3" y="504.3"/><use href="#r" x="227.8" y="490.2"/><use href="#r" x="229.2" y="501.6"/><use href="#r" x="230.6" y="488.2"/><use href="#r" x="232.0" y="495.5"/><use href="#r" x="233.5" y="492.7"/><use href="#r" x="234.9" y="502.8"/><use href="#r" x="235.7" y="496.4"/><use href="#r" x="237.1" y="488.3"/><use href="#r" x="238.6" y="487.8"/><use href="#r" x="240.0" y="483.2"/><use href="#r" x="241.4" y="482.1"/><use href="#r" x="242.8" y="477.2"/><use href="#r" x="244.3" y="472.9"/><use href="#r" x="245.7" y="470.4"/><use href="#r" x="247.1" y="472.4"/><use href="#r" x="248.6" y="473.8"/><use href="#r" x="250.0" y="466.2"/><use href="#r" x="250.5" y="463.1"/><use href="#r" x="251.8" y="459.3"/><use href="#r" x="253.3" y="450.2"/><use href="#r" x="254.9" y="440.3"/><use href="#r" x="256.4" y="429.7"/><use href="#r" x="257.9" y="410.6"/><use href="#r" x="258.9" y="395.7"/><use href="#r" x="260.1" y="388.4"/><use href="#r" x="261.0" y="380.1"/><use href="#r" x="262.5" y="360.6"/><use href="#r" x="264.1" y="334.3"/><use href="#r" x="265.6" y="312.3"/><use href="#r" x="266.5" y="294.0"/><use href="#r" x="267.2" y="266.9"/><use href="#r" x="269.3" y="238.2"/><use href="#r" x="270.6" y="232.8"/><use href="#r" x="271.9" y="244.7"/><use href="#r" x="273.2" y="282.6"/><use href="#r" x="274.8" y="332.6"/><use href="#r" x="275.7" y="374.9"/><use href="#r" x="277.0" y="406.2"/><use href="#r" x="277.9" y="440.7"/><use href="#r" x="278.8" y="467.2"/><use href="#r" x="280.0" y="481.7"/><use href="#r" x="282.0" y="494.4"/><use href="#r" x="283.7" y="505.3"/><use href="#r" x="285.1" y="497.8"/><use href="#r" x="286.6" y="500.7"/><use href="#r" x="288.0" y="502.7"/><use href="#r" x="289.4" y="497.3"/><use href="#r" x="290.8" y="488.3"/><use href="#r" x="292.3" y="501.7"/><use href="#r" x="293.7" y="502.8"/><use href="#r" x="295.1" y="500.0"/><use href="#r" x="296.6" y="492.3"/><use href="#r" x="298.0" y="496.2"/><use href="#r" x="299.4" y="493.8"/><use href="#r" x="300.8" y="495.3"/><use href="#r" x="302.3" y="504.3"/><use href="#r" x="303.7" y="505.6"/><use href="#r" x="305.1" y="500.7"/><use href="#r" x="306.5" y="500.1"/><use href="#r" x="308.0" y="500.8"/><use href="#r" x="309.4" y="496.9"/><use href="#r" x="310.8" y="496.6"/><use href="#r" x="312.2" y="493.2"/><use href="#r" x="313.7" y="496.7"/><use href="#r" x="315.1" y="509.7"/><use href="#r" x="316.5" y="501.9"/><use href="#r" x="317.9" y="495.1"/><use href="#r" x="319.4" y="494.4"/><use href="#r" x="320.8" y="492.2"/><use href="#r" x="322.2" y="499.1"/><use href="#r" x="323.7" y="499.2"/><use href="#r" x="325.1" y="488.9"/><use href="#r" x="326.5" y="499.7"/><use href="#r" x="327.9" y="493.8"/><use href="#r" x="329.4" y="505.0"/><use href="#r" x="330.8" y="497.9"/><use href="#r" x="332.2" y="506.6"/><use href="#r" x="333.6" y="494.4"/><use href="#r" x="335.1" y="495.4"/><use href="#r" x="336.5" y="498.7"/><use href="#r" x="337.9" y="502.9"/><use href="#r" x="339.3" y="500.2"/><use href="#r" x="340.8" y="490.1"/><use href="#r" x="342.2" y="498.0"/><use href="#r" x="343.6" y="497.1"/><use href="#r" x="345.1" y="494.6"/><use href="#r" x="346.5" y="492.8"/><use href="#r" x="347.7" y="501.1"/><use href="#r" x="349.1" y="492.0"/><use href="#r" x="350.6" y="488.7"/><use href="#r" x="352.0" y="492.2"/><use href="#r" x="353.4" y="489.0"/><use href="#r" x="354.8" y="486.9"/><use href="#r" x="356.3" y="488.5"/><use href="#r" x="357.7" y="486.0"/><use href="#r" x="359.1" y="483.9"/><use href="#r" x="360.6" y="484.3"/><use href="#r" x="362.0" y="480.2"/><use href="#r" x="363.4" y="475.2"/><use href="#r" x="364.8" y="474.0"/><use href="#r" x="366.3" y="471.3"/><use href="#r" x="367.7" y="471.1"/><use href="#r" x="369.1" y="463.3"/><use href="#r" x="370.0" y="464.5"/><use href="#r" x="371.8" y="453.3"/><use href="#r" x="373.0" y="444.8"/><use href="#r" x="374.0" y="433.6"/><use href="#r" x="375.9" y="428.4"/><use href="#r" x="377.0" y="423.0"/><use href="#r" x="378.4" y="417.4"/><use href="#r" x="379.9" y="411.3"/><use href="#r" x="380.3" y="401.4"/><use href="#r" x="381.7" y="391.1"/><use href="#r" x="382.5" y="377.5"/><use href="#r" x="384.0" y="367.6"/><use href="#r" x="385.3" y="356.9"/><use href="#r" x="386.5" y="350.0"/><use href="#r" x="387.7" y="337.1"/><use href="#r" x="388.7" y="312.2"/><use href="#r" x="389.9" y="297.3"/><use href="#r" x="391.4" y="287.9"/><use href="#r" x="392.8" y="268.6"/><use href="#r" x="394.5" y="245.3"/><use href="#r" x="396.2" y="228.5"/><use href="#r" x="397.3" y="227.9"/><use href="#r" x="398.4" y="230.2"/><use href="#r" x="399.5" y="226.5"/><use href="#r" x="400.6" y="221.7"/><use href="#r" x="401.6" y="204.3"/><use href="#r" x="403.0" y="198.1"/><use href="#r" x="404.3" y="193.4"/><use href="#r" x="405.4" y="196.6"/><use href="#r" x="406.5" y="202.5"/><use href="#r" x="408.0" y="231.3"/><use href="#r" x="408.7" y="266.2"/><use href="#r" x="410.1" y="292.1"/><use href="#r" x="411.5" y="314.4"/><use href="#r" x="412.9" y="344.7"/><use href="#r" x="413.9" y="375.3"/><use href="#r" x="415.4" y="400.1"/><use href="#r" x="416.6" y="422.5"/><use href="#r" x="417.6" y="443.3"/><use href="#r" x="418.8" y="462.1"/><use href="#r" x="419.8" y="480.1"/><use href="#r" x="421.7" y="490.3"/><use href="#r" x="422.8" y="499.2"/><use href="#r" x="424.7" y="501.3"/><use href="#r" x="426.1" y="513.1"/><use href="#r" x="427.6" y="511.1"/><use href="#r" x="429.0" y="516.4"/><use href="#r" x="430.4" y="517.1"/><use href="#r" x="431.8" y="522.0"/><use href="#r" x="433.3" y="517.5"/><use href="#r" x="434.7" y="509.3"/><use href="#r" x="436.1" y="511.4"/><use href="#r" x="437.6" y="520.2"/><use href="#r" x="439.0" y="516.1"/><use href="#r" x="440.4" y="522.0"/><use href="#r" x="441.8" y="518.4"/><use href="#r" x="443.3" y="514.2"/><use href="#r" x="444.7" y="521.9"/><use href="#r" x="446.1" y="514.0"/><use href="#r" x="447.5" y="508.8"/><use href="#r" x="449.0" y="526.1"/><use href="#r" x="450.4" y="509.5"/><use href="#r" x="451.8" y="520.3"/><use href="#r" x="453.2" y="521.7"/><use href="#r" x="454.7" y="518.5"/><use href="#r" x="456.1" y="510.9"/><use href="#r" x="457.5" y="522.3"/><use href="#r" x="458.9" y="512.1"/><use href="#r" x="460.4" y="512.6"/><use href="#r" x="461.8" y="516.9"/><use href="#r" x="463.2" y="521.8"/><use href="#r" x="464.7" y="519.9"/><use href="#r" x="466.1" y="522.1"/><use href="#r" x="467.5" y="516.9"/><use href="#r" x="468.9" y="518.2"/><use href="#r" x="466.7" y="515.2"/><use href="#r" x="468.1" y="517.9"/><use href="#r" x="469.6" y="520.8"/><use href="#r" x="468.3" y="542.8"/><use href="#r" x="469.7" y="545.2"/><use href="#r" x="468.3" y="542.3"/><use href="#r" x="469.7" y="541.3"/><use href="#r" x="471.2" y="543.1"/><use href="#r" x="472.6" y="542.3"/><use href="#r" x="474.0" y="544.6"/><use href="#r" x="475.4" y="543.3"/><use href="#r" x="476.9" y="548.1"/><use href="#r" x="478.3" y="541.9"/><use href="#r" x="479.7" y="541.8"/><use href="#r" x="481.2" y="539.2"/><use href="#r" x="482.6" y="542.4"/><use href="#r" x="484.0" y="544.4"/><use href="#r" x="485.4" y="539.9"/><use href="#r" x="486.9" y="542.0"/><use href="#r" x="488.3" y="544.3"/><use href="#r" x="489.7" y="541.6"/><use href="#r" x="491.1" y="540.3"/><use href="#r" x="492.6" y="544.9"/><use href="#r" x="494.0" y="542.1"/><use href="#r" x="495.4" y="543.0"/><use href="#r" x="496.8" y="545.3"/><use href="#r" x="498.3" y="545.1"/><use href="#r" x="499.7" y="540.4"/><use href="#r" x="501.1" y="539.8"/><use href="#r" x="502.5" y="542.3"/><use href="#r" x="504.0" y="540.9"/><use href="#r" x="505.4" y="535.3"/><use href="#r" x="506.8" y="545.1"/><use href="#r" x="508.3" y="541.1"/><use href="#r" x="509.7" y="543.3"/><use href="#r" x="511.1" y="537.3"/><use href="#r" x="512.5" y="544.9"/><use href="#r" x="514.0" y="539.0"/><use href="#r" x="515.4" y="540.4"/><use href="#r" x="516.8" y="536.3"/><use href="#r" x="518.2" y="540.1"/><use href="#r" x="519.7" y="539.8"/><use href="#r" x="521.1" y="539.5"/><use href="#r" x="522.5" y="540.9"/><use href="#r" x="523.9" y="539.2"/><use href="#r" x="525.4" y="540.1"/><use href="#r" x="526.7" y="534.3"/><use href="#r" x="528.1" y="531.2"/><use href="#r" x="529.6" y="531.1"/><use href="#r" x="531.0" y="530.3"/><use href="#r" x="532.4" y="529.4"/><use href="#r" x="533.8" y="526.5"/><use href="#r" x="535.3" y="519.1"/><use href="#r" x="536.7" y="521.3"/><use href="#r" x="538.1" y="521.3"/><use href="#r" x="539.6" y="516.3"/><use href="#r" x="541.0" y="513.0"/><use href="#r" x="542.4" y="512.5"/><use href="#r" x="543.8" y="507.9"/><use href="#r" x="545.8" y="504.5"/><use href="#r" x="547.4" y="500.2"/><use href="#r" x="548.9" y="496.8"/><use href="#r" x="550.4" y="491.8"/><use href="#r" x="551.8" y="486.1"/><use href="#r" x="553.3" y="481.9"/><use href="#r" x="554.8" y="477.3"/><use href="#r" x="556.2" y="471.3"/><use href="#r" x="557.0" y="460.3"/><use href="#r" x="558.1" y="446.2"/><use href="#r" x="559.2" y="438.3"/><use href="#r" x="560.7" y="435.1"/><use href="#r" x="562.1" y="432.4"/><use href="#r" x="563.9" y="420.9"/><use href="#r" x="565.0" y="400.9"/><use href="#r" x="566.5" y="386.4"/><use href="#r" x="567.7" y="379.8"/><use href="#r" x="568.7" y="368.4"/><use href="#r" x="569.9" y="342.8"/><use href="#r" x="571.3" y="320.4"/><use href="#r" x="572.8" y="309.2"/><use href="#r" x="573.8" y="297.4"/><use href="#r" x="575.3" y="280.0"/><use href="#r" x="576.8" y="255.5"/><use href="#r" x="577.9" y="238.7"/><use href="#r" x="579.3" y="220.3"/><use href="#r" x="581.0" y="207.9"/><use href="#r" x="582.6" y="194.5"/><use href="#r" x="584.7" y="176.3"/><use href="#r" x="585.5" y="162.1"/><use href="#r" x="587.1" y="157.2"/><use href="#r" x="588.7" y="153.7"/><use href="#r" x="589.4" y="135.9"/><use href="#r" x="590.5" y="126.6"/><use href="#r" x="591.6" y="119.5"/><use href="#r" x="592.9" y="124.7"/><use href="#r" x="594.1" y="128.6"/><use href="#r" x="595.6" y="135.2"/><use href="#r" x="596.8" y="141.8"/><use href="#r" x="597.9" y="149.8"/><use href="#r" x="599.3" y="161.2"/><use href="#r" x="600.7" y="171.3"/><use href="#r" x="602.2" y="176.9"/><use href="#r" x="603.4" y="190.9"/><use href="#r" x="604.9" y="210.2"/><use href="#r" x="606.1" y="231.5"/><use href="#r" x="607.3" y="258.6"/><use href="#r" x="608.8" y="293.1"/><use href="#r" x="610.1" y="329.7"/><use href="#r" x="611.2" y="359.0"/><use href="#r" x="612.7" y="384.9"/><use href="#r" x="614.2" y="411.0"/><use href="#r" x="615.4" y="432.2"/><use href="#r" x="616.8" y="452.3"/><use href="#r" x="618.3" y="474.8"/><use href="#r" x="619.8" y="493.8"/><use href="#r" x="620.8" y="510.7"/><use href="#r" x="622.6" y="522.9"/><use href="#r" x="624.5" y="531.2"/><use href="#r" x="626.0" y="538.3"/><use href="#r" x="627.1" y="540.9"/><use href="#r" x="628.2" y="543.9"/><use href="#r" x="629.5" y="545.7"/><use href="#r" x="630.7" y="546.3"/><use href="#r" x="632.1" y="547.3"/><use href="#r" x="633.6" y="550.5"/><use href="#r" x="635.0" y="549.3"/><use href="#r" x="636.4" y="552.5"/><use href="#r" x="637.8" y="551.2"/><use href="#r" x="639.3" y="553.7"/><use href="#r" x="640.7" y="554.6"/><use href="#r" x="642.1" y="557.1"/><use href="#r" x="643.6" y="553.7"/><use href="#r" x="645.0" y="553.3"/><use href="#r" x="646.4" y="554.2"/><use href="#r" x="647.8" y="553.7"/><use href="#r" x="649.3" y="554.3"/><use href="#r" x="650.7" y="555.5"/><use href="#r" x="652.1" y="555.7"/><use href="#r" x="653.5" y="556.1"/><use href="#r" x="655.0" y="552.5"/><use href="#r" x="656.4" y="555.9"/><use href="#r" x="657.8" y="554.5"/><use href="#r" x="659.2" y="551.2"/><use href="#r" x="660.7" y="548.0"/><use href="#r" x="662.1" y="550.0"/><use href="#r" x="663.5" y="549.5"/><use href="#r" x="664.9" y="545.7"/><use href="#r" x="666.4" y="547.6"/><use href="#r" x="667.8" y="546.2"/><use href="#r" x="669.2" y="544.6"/><use href="#r" x="670.7" y="545.3"/><use href="#r" x="672.1" y="545.2"/><use href="#r" x="673.5" y="542.8"/><use href="#r" x="674.9" y="543.1"/><use href="#r" x="676.4" y="541.5"/><use href="#r" x="677.8" y="540.8"/><use href="#r" x="679.2" y="541.3"/><use href="#r" x="680.6" y="541.3"/><use href="#r" x="682.1" y="539.2"/><use href="#r" x="683.5" y="536.3"/><use href="#r" x="684.9" y="538.8"/><use href="#r" x="686.3" y="535.4"/><use href="#r" x="687.8" y="535.6"/><use href="#r" x="689.2" y="535.2"/><use href="#r" x="690.7" y="530.7"/><use href="#r" x="692.1" y="527.9"/><use href="#r" x="693.6" y="525.9"/><use href="#r" x="695.0" y="528.3"/><use href="#r" x="696.4" y="528.8"/><use href="#r" x="697.8" y="531.0"/><use href="#r" x="699.3" y="533.7"/><use href="#r" x="700.7" y="535.1"/><use href="#r" x="702.1" y="537.3"/><use href="#r" x="703.6" y="538.9"/><use href="#r" x="705.0" y="538.9"/><use href="#r" x="706.4" y="542.3"/><use href="#r" x="707.8" y="545.3"/><use href="#r" x="709.3" y="546.5"/><use href="#r" x="710.7" y="548.3"/><use href="#r" x="712.7" y="548.9"/><use href="#r" x="714.1" y="549.3"/><use href="#r" x="715.6" y="550.2"/><use href="#r" x="717.0" y="548.3"/><use href="#r" x="718.4" y="549.1"/><use href="#r" x="719.8" y="547.6"/><use href="#r" x="721.3" y="550.8"/><use href="#r" x="722.7" y="549.7"/><use href="#r" x="724.1" y="550.4"/><use href="#r" x="725.6" y="552.0"/><use href="#r" x="727.0" y="551.9"/><use href="#r" x="728.4" y="550.9"/><use href="#r" x="729.8" y="552.3"/><use href="#r" x="731.3" y="550.1"/><use href="#r" x="732.7" y="552.7"/><use href="#r" x="734.1" y="552.8"/><use href="#r" x="735.5" y="551.1"/><use href="#r" x="737.0" y="555.0"/><use href="#r" x="738.4" y="553.0"/><use href="#r" x="739.8" y="555.3"/><use href="#r" x="741.2" y="554.9"/><use href="#r" x="742.7" y="557.5"/><use href="#r" x="744.1" y="558.8"/><use href="#r" x="745.5" y="557.1"/><use href="#r" x="746.9" y="557.2"/><use href="#r" x="748.4" y="559.8"/><use href="#r" x="749.8" y="561.9"/><use href="#r" x="751.2" y="561.1"/><use href="#r" x="752.7" y="561.0"/><use href="#r" x="754.1" y="562.6"/><use href="#r" x="755.5" y="558.9"/><use href="#r" x="756.9" y="561.6"/><use href="#r" x="758.4" y="561.0"/><use href="#r" x="759.8" y="563.2"/><use href="#r" x="761.2" y="562.2"/><use href="#r" x="762.6" y="562.2"/><use href="#r" x="764.1" y="563.6"/><use href="#r" x="765.5" y="562.8"/><use href="#r" x="766.9" y="565.0"/><use href="#r" x="768.3" y="564.7"/><use href="#r" x="769.8" y="565.5"/><use href="#r" x="771.2" y="565.6"/><use href="#r" x="772.6" y="567.7"/><use href="#r" x="774.1" y="566.6"/><use href="#r" x="775.5" y="567.4"/><use href="#r" x="776.9" y="567.5"/><use href="#r" x="778.3" y="566.0"/><use href="#r" x="779.8" y="567.8"/><use href="#r" x="781.2" y="567.6"/><use href="#r" x="782.6" y="567.8"/><use href="#r" x="784.0" y="567.3"/><use href="#r" x="785.5" y="567.6"/><use href="#r" x="786.9" y="569.4"/><use href="#r" x="788.3" y="571.4"/><use href="#r" x="789.7" y="568.3"/><use href="#r" x="791.2" y="570.6"/><use href="#r" x="792.6" y="570.2"/></g>
<g><use href="#b" x="182.1" y="492.4"/><use href="#b" x="183.5" y="486.6"/><use href="#b" x="185.0" y="487.4"/><use href="#b" x="186.4" y="464.1"/><use href="#b" x="187.8" y="475.1"/><use href="#b" x="189.2" y="474.6"/><use href="#b" x="190.7" y="481.0"/><use href="#b" x="192.1" y="479.1"/><use href="#b" x="193.5" y="480.2"/><use href="#b" x="195.0" y="488.2"/><use href="#b" x="196.4" y="495.6"/><use href="#b" x="197.8" y="470.4"/><use href="#b" x="199.2" y="484.9"/><use href="#b" x="200.7" y="488.6"/><use href="#b" x="202.1" y="486.8"/><use href="#b" x="203.5" y="484.7"/><use href="#b" x="204.9" y="479.0"/><use href="#b" x="206.4" y="481.2"/><use href="#b" x="207.8" y="490.2"/><use href="#b" x="209.2" y="492.0"/><use href="#b" x="210.6" y="486.4"/><use href="#b" x="212.1" y="481.2"/><use href="#b" x="213.5" y="486.1"/><use href="#b" x="214.9" y="484.1"/><use href="#b" x="216.3" y="488.3"/><use href="#b" x="217.8" y="485.8"/><use href="#b" x="219.2" y="481.6"/><use href="#b" x="220.6" y="485.9"/><use href="#b" x="222.1" y="478.2"/><use href="#b" x="223.5" y="489.1"/><use href="#b" x="224.9" y="490.9"/><use href="#b" x="226.3" y="477.8"/><use href="#b" x="227.8" y="486.4"/><use href="#b" x="229.2" y="478.0"/><use href="#b" x="230.6" y="485.5"/><use href="#b" x="232.7" y="475.8"/><use href="#b" x="234.1" y="470.2"/><use href="#b" x="235.6" y="470.4"/><use href="#b" x="237.0" y="464.4"/><use href="#b" x="238.4" y="458.8"/><use href="#b" x="239.8" y="449.6"/><use href="#b" x="241.3" y="443.0"/><use href="#b" x="242.7" y="436.9"/><use href="#b" x="244.1" y="432.3"/><use href="#b" x="245.6" y="424.5"/><use href="#b" x="247.0" y="423.1"/><use href="#b" x="248.4" y="418.9"/><use href="#b" x="249.8" y="411.5"/><use href="#b" x="251.3" y="405.4"/><use href="#b" x="252.7" y="397.6"/><use href="#b" x="254.1" y="374.9"/><use href="#b" x="255.5" y="355.4"/><use href="#b" x="257.0" y="339.8"/><use href="#b" x="258.8" y="311.5"/><use href="#b" x="260.0" y="300.5"/><use href="#b" x="261.1" y="295.4"/><use href="#b" x="262.3" y="290.1"/><use href="#b" x="263.7" y="269.3"/><use href="#b" x="264.9" y="244.9"/><use href="#b" x="266.0" y="226.1"/><use href="#b" x="267.0" y="215.0"/><use href="#b" x="268.4" y="230.4"/><use href="#b" x="269.5" y="254.0"/><use href="#b" x="270.7" y="271.1"/><use href="#b" x="271.9" y="297.8"/><use href="#b" x="273.3" y="335.5"/><use href="#b" x="274.8" y="372.4"/><use href="#b" x="275.7" y="399.8"/><use href="#b" x="277.0" y="430.1"/><use href="#b" x="277.9" y="454.0"/><use href="#b" x="279.4" y="470.7"/><use href="#b" x="281.5" y="479.6"/><use href="#b" x="282.6" y="480.5"/><use href="#b" x="283.7" y="480.7"/><use href="#b" x="285.1" y="476.9"/><use href="#b" x="286.6" y="493.2"/><use href="#b" x="288.0" y="479.8"/><use href="#b" x="289.4" y="479.6"/><use href="#b" x="290.8" y="485.6"/><use href="#b" x="292.3" y="491.9"/><use href="#b" x="293.7" y="491.1"/><use href="#b" x="295.1" y="481.2"/><use href="#b" x="296.6" y="485.2"/><use href="#b" x="298.0" y="484.6"/><use href="#b" x="299.4" y="486.7"/><use href="#b" x="300.8" y="485.1"/><use href="#b" x="302.3" y="478.5"/><use href="#b" x="303.7" y="476.8"/><use href="#b" x="305.1" y="484.6"/><use href="#b" x="306.5" y="477.1"/><use href="#b" x="308.0" y="491.1"/><use href="#b" x="309.4" y="483.8"/><use href="#b" x="310.8" y="477.9"/><use href="#b" x="312.2" y="481.8"/><use href="#b" x="313.7" y="480.7"/><use href="#b" x="315.1" y="482.8"/><use href="#b" x="316.5" y="488.7"/><use href="#b" x="317.9" y="475.5"/><use href="#b" x="319.4" y="473.2"/><use href="#b" x="320.8" y="485.3"/><use href="#b" x="322.2" y="482.4"/><use href="#b" x="323.7" y="484.3"/><use href="#b" x="325.1" y="485.8"/><use href="#b" x="326.5" y="482.3"/><use href="#b" x="327.9" y="487.7"/><use href="#b" x="329.4" y="478.4"/><use href="#b" x="330.8" y="483.6"/><use href="#b" x="332.2" y="478.7"/><use href="#b" x="333.6" y="477.0"/><use href="#b" x="335.1" y="486.6"/><use href="#b" x="336.5" y="486.3"/><use href="#b" x="337.9" y="472.5"/><use href="#b" x="339.3" y="476.9"/><use href="#b" x="340.8" y="484.7"/><use href="#b" x="342.2" y="489.0"/><use href="#b" x="343.6" y="479.4"/><use href="#b" x="345.1" y="482.0"/><use href="#b" x="346.5" y="474.7"/><use href="#b" x="347.7" y="484.8"/><use href="#b" x="349.1" y="474.2"/><use href="#b" x="350.6" y="470.6"/><use href="#b" x="352.0" y="465.2"/><use href="#b" x="353.4" y="461.0"/><use href="#b" x="354.8" y="458.1"/><use href="#b" x="356.3" y="453.7"/><use href="#b" x="357.7" y="454.4"/><use href="#b" x="359.1" y="450.6"/><use href="#b" x="360.6" y="451.5"/><use href="#b" x="362.0" y="444.2"/><use href="#b" x="363.4" y="441.2"/><use href="#b" x="364.8" y="440.8"/><use href="#b" x="366.3" y="432.5"/><use href="#b" x="367.7" y="420.7"/><use href="#b" x="369.3" y="415.4"/><use href="#b" x="370.6" y="402.9"/><use href="#b" x="371.8" y="393.7"/><use href="#b" x="372.8" y="388.8"/><use href="#b" x="374.1" y="382.2"/><use href="#b" x="375.5" y="375.4"/><use href="#b" x="376.7" y="352.1"/><use href="#b" x="378.4" y="343.3"/><use href="#b" x="380.3" y="332.4"/><use href="#b" x="381.7" y="326.7"/><use href="#b" x="382.6" y="318.7"/><use href="#b" x="384.0" y="298.7"/><use href="#b" x="385.2" y="276.2"/><use href="#b" x="387.0" y="263.9"/><use href="#b" x="388.1" y="256.5"/><use href="#b" x="389.2" y="247.7"/><use href="#b" x="390.3" y="237.7"/><use href="#b" x="391.4" y="244.4"/><use href="#b" x="392.5" y="250.1"/><use href="#b" x="394.1" y="249.4"/><use href="#b" x="395.8" y="246.0"/><use href="#b" x="397.2" y="251.3"/><use href="#b" x="398.7" y="256.1"/><use href="#b" x="400.2" y="264.2"/><use href="#b" x="401.3" y="272.3"/><use href="#b" x="402.4" y="285.6"/><use href="#b" x="403.8" y="305.5"/><use href="#b" x="405.3" y="322.4"/><use href="#b" x="406.3" y="334.3"/><use href="#b" x="407.5" y="348.8"/><use href="#b" x="408.9" y="366.4"/><use href="#b" x="410.0" y="384.4"/><use href="#b" x="411.4" y="402.9"/><use href="#b" x="412.6" y="416.7"/><use href="#b" x="413.9" y="430.8"/><use href="#b" x="415.1" y="439.0"/><use href="#b" x="416.6" y="448.6"/><use href="#b" x="417.6" y="462.3"/><use href="#b" x="418.8" y="474.3"/><use href="#b" x="420.2" y="482.8"/><use href="#b" x="421.3" y="486.4"/><use href="#b" x="422.4" y="490.0"/><use href="#b" x="423.6" y="495.1"/><use href="#b" x="424.7" y="501.8"/><use href="#b" x="426.1" y="503.0"/><use href="#b" x="427.6" y="512.1"/><use href="#b" x="429.0" y="515.1"/><use href="#b" x="430.4" y="513.0"/><use href="#b" x="431.8" y="517.3"/><use href="#b" x="433.3" y="513.0"/><use href="#b" x="434.7" y="522.1"/><use href="#b" x="436.1" y="516.5"/><use href="#b" x="437.6" y="516.0"/><use href="#b" x="439.0" y="518.9"/><use href="#b" x="440.4" y="513.9"/><use href="#b" x="441.8" y="515.1"/><use href="#b" x="443.3" y="509.2"/><use href="#b" x="444.7" y="509.4"/><use href="#b" x="446.1" y="505.5"/><use href="#b" x="447.5" y="507.6"/><use href="#b" x="449.0" y="509.9"/><use href="#b" x="450.4" y="506.1"/><use href="#b" x="451.8" y="507.0"/><use href="#b" x="453.2" y="500.3"/><use href="#b" x="454.7" y="499.7"/><use href="#b" x="456.1" y="500.0"/><use href="#b" x="457.5" y="501.9"/><use href="#b" x="458.9" y="500.1"/><use href="#b" x="460.4" y="497.7"/><use href="#b" x="461.8" y="499.7"/><use href="#b" x="463.2" y="499.9"/><use href="#b" x="464.7" y="502.7"/><use href="#b" x="466.1" y="509.2"/><use href="#b" x="467.5" y="504.0"/><use href="#b" x="468.9" y="505.9"/><use href="#b" x="466.7" y="509.8"/><use href="#b" x="468.1" y="505.8"/><use href="#b" x="469.6" y="506.8"/><use href="#b" x="468.3" y="542.6"/><use href="#b" x="469.7" y="547.8"/><use href="#b" x="468.3" y="539.1"/><use href="#b" x="469.7" y="539.2"/><use href="#b" x="471.2" y="535.5"/><use href="#b" x="472.6" y="537.9"/><use href="#b" x="474.0" y="535.6"/><use href="#b" x="475.4" y="535.0"/><use href="#b" x="476.9" y="533.3"/><use href="#b" x="478.3" y="538.0"/><use href="#b" x="479.7" y="537.9"/><use href="#b" x="481.2" y="536.5"/><use href="#b" x="482.6" y="535.1"/><use href="#b" x="484.0" y="536.6"/><use href="#b" x="485.4" y="540.3"/><use href="#b" x="486.9" y="540.8"/><use href="#b" x="488.3" y="540.4"/><use href="#b" x="489.7" y="540.0"/><use href="#b" x="491.1" y="536.3"/><use href="#b" x="492.6" y="540.8"/><use href="#b" x="494.0" y="538.4"/><use href="#b" x="495.4" y="540.7"/><use href="#b" x="496.8" y="540.1"/><use href="#b" x="498.3" y="535.9"/><use href="#b" x="499.7" y="533.5"/><use href="#b" x="501.1" y="536.8"/><use href="#b" x="502.5" y="533.8"/><use href="#b" x="504.0" y="530.2"/><use href="#b" x="505.4" y="524.0"/><use href="#b" x="506.8" y="530.5"/><use href="#b" x="508.3" y="531.5"/><use href="#b" x="509.7" y="532.1"/><use href="#b" x="511.1" y="527.2"/><use href="#b" x="512.5" y="526.7"/><use href="#b" x="514.0" y="526.6"/><use href="#b" x="515.4" y="529.1"/><use href="#b" x="516.8" y="523.7"/><use href="#b" x="518.2" y="525.6"/><use href="#b" x="519.7" y="522.9"/><use href="#b" x="521.1" y="525.0"/><use href="#b" x="522.5" y="519.8"/><use href="#b" x="523.9" y="523.7"/><use href="#b" x="525.4" y="520.8"/><use href="#b" x="526.7" y="517.4"/><use href="#b" x="528.1" y="512.7"/><use href="#b" x="529.6" y="510.4"/><use href="#b" x="531.0" y="504.7"/><use href="#b" x="532.4" y="505.5"/><use href="#b" x="533.8" y="502.6"/><use href="#b" x="535.3" y="499.2"/><use href="#b" x="536.7" y="498.9"/><use href="#b" x="538.1" y="494.0"/><use href="#b" x="539.6" y="491.4"/><use href="#b" x="541.0" y="483.7"/><use href="#b" x="542.4" y="474.2"/><use href="#b" x="543.8" y="467.0"/><use href="#b" x="545.2" y="460.6"/><use href="#b" x="546.5" y="458.2"/><use href="#b" x="547.9" y="455.9"/><use href="#b" x="549.2" y="446.7"/><use href="#b" x="550.6" y="428.8"/><use href="#b" x="552.1" y="414.4"/><use href="#b" x="553.3" y="402.5"/><use href="#b" x="554.8" y="392.2"/><use href="#b" x="555.8" y="384.7"/><use href="#b" x="557.0" y="375.1"/><use href="#b" x="558.1" y="371.7"/><use href="#b" x="559.6" y="364.7"/><use href="#b" x="560.9" y="351.5"/><use href="#b" x="562.4" y="339.6"/><use href="#b" x="563.6" y="321.0"/><use href="#b" x="565.0" y="301.3"/><use href="#b" x="566.1" y="294.5"/><use href="#b" x="567.2" y="289.1"/><use href="#b" x="568.7" y="277.4"/><use href="#b" x="570.2" y="260.6"/><use href="#b" x="571.3" y="244.8"/><use href="#b" x="572.8" y="230.5"/><use href="#b" x="574.1" y="221.7"/><use href="#b" x="575.3" y="214.3"/><use href="#b" x="576.8" y="197.4"/><use href="#b" x="578.2" y="184.2"/><use href="#b" x="579.8" y="186.5"/><use href="#b" x="581.4" y="188.9"/><use href="#b" x="583.4" y="181.3"/><use href="#b" x="584.7" y="179.6"/><use href="#b" x="585.9" y="175.6"/><use href="#b" x="587.2" y="172.7"/><use href="#b" x="588.8" y="181.6"/><use href="#b" x="590.0" y="195.5"/><use href="#b" x="591.4" y="212.9"/><use href="#b" x="592.6" y="226.9"/><use href="#b" x="593.9" y="235.1"/><use href="#b" x="595.4" y="252.9"/><use href="#b" x="596.6" y="275.8"/><use href="#b" x="598.0" y="293.1"/><use href="#b" x="599.5" y="304.4"/><use href="#b" x="600.7" y="315.2"/><use href="#b" x="602.0" y="335.9"/><use href="#b" x="603.5" y="355.2"/><use href="#b" x="604.9" y="373.0"/><use href="#b" x="606.1" y="399.2"/><use href="#b" x="607.6" y="420.4"/><use href="#b" x="608.8" y="432.9"/><use href="#b" x="610.2" y="450.9"/><use href="#b" x="611.7" y="467.0"/><use href="#b" x="612.5" y="481.4"/><use href="#b" x="613.9" y="502.6"/><use href="#b" x="615.2" y="519.7"/><use href="#b" x="617.1" y="526.1"/><use href="#b" x="618.2" y="529.3"/><use href="#b" x="619.3" y="532.7"/><use href="#b" x="620.8" y="538.4"/><use href="#b" x="621.5" y="544.1"/><use href="#b" x="623.0" y="546.7"/><use href="#b" x="624.5" y="549.8"/><use href="#b" x="625.6" y="551.1"/><use href="#b" x="626.7" y="551.5"/><use href="#b" x="628.1" y="554.6"/><use href="#b" x="629.6" y="554.7"/><use href="#b" x="631.0" y="554.9"/><use href="#b" x="632.4" y="555.4"/><use href="#b" x="633.8" y="556.2"/><use href="#b" x="635.3" y="554.8"/><use href="#b" x="636.7" y="553.2"/><use href="#b" x="638.1" y="553.3"/><use href="#b" x="639.6" y="551.3"/><use href="#b" x="641.0" y="550.1"/><use href="#b" x="642.4" y="548.5"/><use href="#b" x="643.8" y="548.4"/><use href="#b" x="645.3" y="546.7"/><use href="#b" x="646.7" y="545.8"/><use href="#b" x="648.1" y="545.2"/><use href="#b" x="649.5" y="543.8"/><use href="#b" x="651.0" y="541.5"/><use href="#b" x="652.4" y="536.8"/><use href="#b" x="653.8" y="535.6"/><use href="#b" x="655.2" y="534.8"/><use href="#b" x="656.7" y="533.9"/><use href="#b" x="658.1" y="533.4"/><use href="#b" x="659.5" y="531.5"/><use href="#b" x="660.9" y="529.8"/><use href="#b" x="662.4" y="530.3"/><use href="#b" x="663.8" y="530.7"/><use href="#b" x="665.2" y="531.3"/><use href="#b" x="666.7" y="531.2"/><use href="#b" x="668.1" y="531.9"/><use href="#b" x="669.5" y="531.3"/><use href="#b" x="670.9" y="531.1"/><use href="#b" x="672.4" y="532.7"/><use href="#b" x="673.8" y="541.5"/><use href="#b" x="675.2" y="543.0"/><use href="#b" x="676.6" y="544.4"/><use href="#b" x="678.1" y="545.3"/><use href="#b" x="679.5" y="544.4"/><use href="#b" x="680.9" y="543.3"/><use href="#b" x="682.3" y="543.0"/><use href="#b" x="683.8" y="542.0"/><use href="#b" x="685.2" y="542.1"/><use href="#b" x="686.6" y="543.9"/><use href="#b" x="688.1" y="544.8"/><use href="#b" x="689.5" y="545.7"/><use href="#b" x="690.9" y="544.6"/><use href="#b" x="692.3" y="543.6"/><use href="#b" x="693.8" y="542.1"/><use href="#b" x="695.2" y="543.9"/><use href="#b" x="696.6" y="543.6"/><use href="#b" x="698.0" y="546.1"/><use href="#b" x="699.5" y="548.4"/><use href="#b" x="700.9" y="551.9"/><use href="#b" x="702.3" y="554.2"/><use href="#b" x="703.7" y="552.4"/><use href="#b" x="705.2" y="550.9"/><use href="#b" x="706.6" y="550.1"/><use href="#b" x="708.0" y="549.5"/><use href="#b" x="709.5" y="548.5"/><use href="#b" x="710.9" y="547.4"/><use href="#b" x="712.3" y="546.5"/><use href="#b" x="713.7" y="546.8"/><use href="#b" x="715.2" y="547.5"/><use href="#b" x="716.6" y="546.2"/><use href="#b" x="718.0" y="543.0"/><use href="#b" x="719.4" y="541.0"/><use href="#b" x="721.4" y="538.3"/><use href="#b" x="722.8" y="536.3"/><use href="#b" x="724.3" y="535.4"/><use href="#b" x="725.8" y="531.3"/><use href="#b" x="727.3" y="527.1"/><use href="#b" x="728.6" y="525.6"/><use href="#b" x="729.9" y="522.6"/><use href="#b" x="731.7" y="514.1"/><use href="#b" x="733.2" y="514.4"/><use href="#b" x="734.6" y="513.8"/><use href="#b" x="735.7" y="508.8"/><use href="#b" x="736.8" y="505.2"/><use href="#b" x="738.3" y="501.9"/><use href="#b" x="739.8" y="498.6"/><use href="#b" x="741.2" y="496.8"/><use href="#b" x="742.7" y="494.1"/><use href="#b" x="743.8" y="494.2"/><use href="#b" x="744.9" y="497.1"/><use href="#b" x="746.0" y="498.4"/><use href="#b" x="747.1" y="500.3"/><use href="#b" x="748.6" y="506.4"/><use href="#b" x="749.7" y="509.2"/><use href="#b" x="750.8" y="511.6"/><use href="#b" x="751.9" y="513.1"/><use href="#b" x="753.0" y="514.0"/><use href="#b" x="754.0" y="521.2"/><use href="#b" x="755.5" y="528.9"/><use href="#b" x="756.6" y="535.6"/><use href="#b" x="758.1" y="543.4"/><use href="#b" x="759.6" y="551.5"/><use href="#b" x="760.7" y="553.1"/><use href="#b" x="761.8" y="554.8"/><use href="#b" x="763.2" y="561.4"/><use href="#b" x="764.5" y="563.3"/><use href="#b" x="765.7" y="564.7"/><use href="#b" x="767.1" y="565.2"/><use href="#b" x="768.6" y="565.3"/><use href="#b" x="770.0" y="566.7"/><use href="#b" x="771.4" y="566.2"/><use href="#b" x="772.8" y="565.7"/><use href="#b" x="774.3" y="566.0"/><use href="#b" x="775.7" y="567.2"/><use href="#b" x="777.1" y="567.0"/><use href="#b" x="778.6" y="567.2"/><use href="#b" x="780.0" y="567.9"/><use href="#b" x="781.4" y="568.7"/><use href="#b" x="782.8" y="567.4"/><use href="#b" x="784.3" y="567.6"/><use href="#b" x="785.7" y="566.9"/><use href="#b" x="787.1" y="568.1"/><use href="#b" x="788.5" y="567.4"/><use href="#b" x="790.0" y="567.0"/><use href="#b" x="791.4" y="567.1"/></g>
<g>
<text transform="translate(155.38 580.40) scale(0.8850 1)" font-size="28.0" fill="#000" stroke="#000" stroke-width="0.3">0</text><text transform="translate(127.81 474.84) scale(0.8850 1)" font-size="28.0" fill="#000" stroke="#000" stroke-width="0.3">200</text><text transform="translate(127.81 369.28) scale(0.8850 1)" font-size="28.0" fill="#000" stroke="#000" stroke-width="0.3">400</text><text transform="translate(127.81 263.72) scale(0.8850 1)" font-size="28.0" fill="#000" stroke="#000" stroke-width="0.3">600</text><text transform="translate(127.81 158.16) scale(0.8850 1)" font-size="28.0" fill="#000" stroke="#000" stroke-width="0.3">800</text><text transform="translate(114.06 52.60) scale(0.8850 1)" font-size="28.0" fill="#000" stroke="#000" stroke-width="0.3">1000</text><text transform="translate(262.59 606.90) scale(0.8850 1)" font-size="28.0" fill="#000" stroke="#000" stroke-width="0.3">80</text><text transform="translate(421.32 606.90) scale(0.8850 1)" font-size="28.0" fill="#000" stroke="#000" stroke-width="0.3">85</text><text transform="translate(579.92 606.90) scale(0.8850 1)" font-size="28.0" fill="#000" stroke="#000" stroke-width="0.3">90</text><text transform="translate(738.65 606.90) scale(0.8850 1)" font-size="28.0" fill="#000" stroke="#000" stroke-width="0.3">95</text>
</g>
<text transform="translate(425.14 644.90) scale(0.9330 1)" font-size="26.8" fill="#000" stroke="#000" stroke-width="0.3">Energy (keV)</text><text transform="translate(91.6 401.73) rotate(-90) scale(0.892 1)" font-size="27.9" stroke="#000" stroke-width="0.3">Intensity (counts)</text>
<ellipse cx="224.2" cy="87.3" rx="5.1" ry="5.55" fill="#00f"/><ellipse cx="224.1" cy="122.1" rx="4.7" ry="5.15" fill="none" stroke="#f00" stroke-width="1.9"/><path d="M232.5 157.7 H280.6" stroke="#000" stroke-width="1.7"/>
<text transform="translate(246.24 95.00) scale(0.9280 1)" font-size="26.6" fill="#00f" stroke="#00f" stroke-width="0.3">As deposited</text><text transform="translate(245.65 130.00) scale(0.9280 1)" font-size="26.6" fill="#f00" stroke="#f00" stroke-width="0.3">850C anneal</text><text transform="translate(310.33 165.60) scale(0.9280 1)" font-size="26.6" fill="#000" stroke="#000" stroke-width="0.3">model</text><text transform="translate(288.94 380.30) scale(0.9200 1)" font-size="27.4" fill="#000" stroke="#000" stroke-width="0.3">C</text><text transform="translate(434.70 379.60) scale(0.9200 1)" font-size="27.4" fill="#000" stroke="#000" stroke-width="0.3">Ox</text><text transform="translate(572.87 527.30) scale(0.9200 1)" font-size="27.4" fill="#000" stroke="#000" stroke-width="0.3">Si</text><text transform="translate(667.70 447.90) scale(0.8750 1)" font-size="27.4" fill="#000" stroke="#000" stroke-width="0.3">Cl</text><text transform="translate(688.47 474.10) scale(0.8950 1)" font-size="27.4" fill="#000" stroke="#000" stroke-width="0.3">Ca</text><text transform="translate(747.62 474.10) scale(0.9200 1)" font-size="27.4" fill="#000" stroke="#000" stroke-width="0.3">Fe</text><text transform="translate(456.65 472.80) scale(0.9200 1)" font-size="21.8" fill="#000" stroke="#000" stroke-width="0.3">x2</text>
<path d="M679.4 459.1 V512" stroke="#000" stroke-width="1.7"/><use href="#ah" x="679.4" y="519.2"/><path d="M704.7 485.5 V512" stroke="#000" stroke-width="1.7"/><use href="#ah" x="704.7" y="519.2"/><path d="M762.0 485.5 V512" stroke="#000" stroke-width="1.7"/><use href="#ah" x="762.0" y="519.2"/>
</svg>
</body></html>
